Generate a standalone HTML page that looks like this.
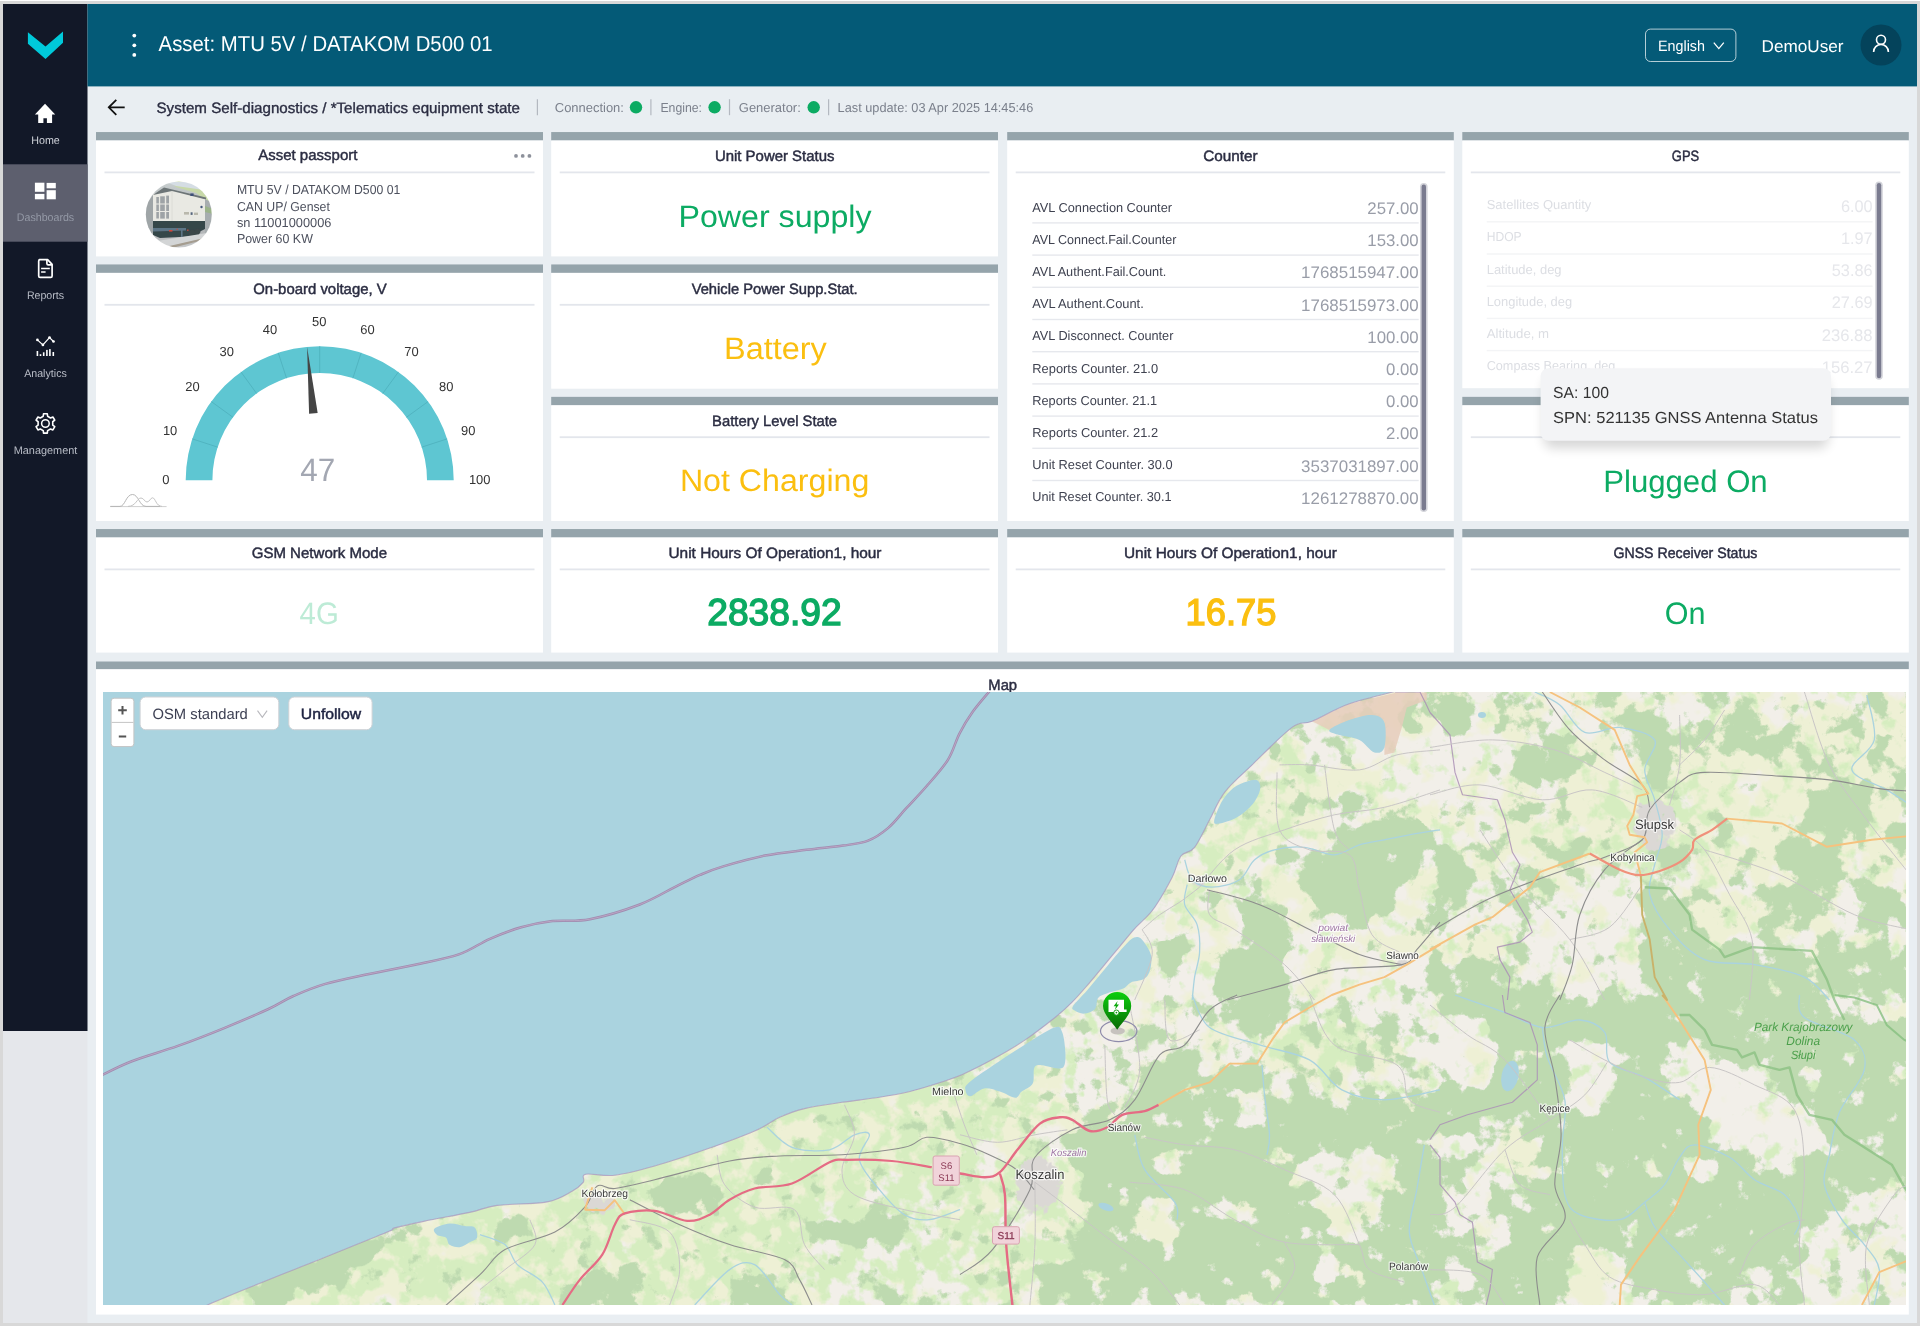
<!DOCTYPE html>
<html lang="en"><head><meta charset="utf-8"><title>Asset: MTU 5V / DATAKOM D500 01</title>
<style>
html,body{margin:0;padding:0;background:#fff;overflow:hidden}
body{width:1923px;height:1328px;position:relative}
body>svg{position:absolute;left:0;top:0;display:block;font-family:"Liberation Sans",sans-serif;will-change:transform}
text{white-space:pre;text-rendering:geometricPrecision}
</style></head><body>
<svg width="1923" height="1328" viewBox="0 0 1923 1328">

<rect x="0.00" y="1.00" width="1920.00" height="1325.00" fill="#d8d8d8" />
<rect x="3.00" y="4.00" width="1914.00" height="1319.00" fill="#e9eef2" />
<rect x="3.00" y="4.00" width="84.50" height="1027.00" fill="#121828" />
<rect x="3.00" y="1031.00" width="84.50" height="292.00" fill="#e5e7eb" />
<rect x="3.00" y="164.30" width="84.50" height="77.40" fill="#5d5f6e" />
<rect x="87.50" y="4.00" width="1829.50" height="82.40" fill="#045a77" />
<circle cx="134.3" cy="35.6" r="1.9" fill="#fff"/>
<circle cx="134.3" cy="45.3" r="1.9" fill="#fff"/>
<circle cx="134.3" cy="54.9" r="1.9" fill="#fff"/>
<text x="158.6" y="51.3" font-size="21.5" fill="#fff" textLength="334.0" lengthAdjust="spacingAndGlyphs">Asset: MTU 5V / DATAKOM D500 01</text>
<rect x="1645.5" y="29.1" width="90.4" height="32.4" rx="5" fill="none" stroke="#fff" stroke-opacity=".7" stroke-width="1"/>
<text x="1658.0" y="51.0" font-size="15" fill="#fff" textLength="47.0" lengthAdjust="spacingAndGlyphs">English</text>
<path d="M1713.8 42.6 L1718.8 48.6 L1723.8 42.6" fill="none" stroke="#fff" stroke-width="1.3"/>
<text x="1761.5" y="52.0" font-size="17" fill="#fff" textLength="82.0" lengthAdjust="spacingAndGlyphs">DemoUser</text>
<circle cx="1881" cy="45" r="20.5" fill="#04435b"/>
<circle cx="1881" cy="39.8" r="4.5" fill="none" stroke="#fff" stroke-width="1.6"/>
<path d="M1873.6 51.9 A7.4 7.4 0 0 1 1888.4 51.9" fill="none" stroke="#fff" stroke-width="1.6"/>
<path d="M27.9 32.2 L45.5 46.4 L63 31.6 L63 42.7 L45.5 59 L27.9 43.8 Z" fill="#00c9da"/>
<path d="M45.03 103.7 L55.2 114.6 L52.1 114.6 L52.1 123.1 L46.9 123.1 L46.9 118.2 L43.4 118.2 L43.4 123.1 L38.2 123.1 L38.2 114.6 L34.9 114.6 Z" fill="#fff"/>
<rect x="34.90" y="182.70" width="9.50" height="9.10" fill="#fff" />
<rect x="46.60" y="182.90" width="9.20" height="5.40" fill="#fff" />
<rect x="34.90" y="193.90" width="9.50" height="5.40" fill="#fff" />
<rect x="46.60" y="190.20" width="9.20" height="9.10" fill="#fff" />
<g fill="none" stroke="#fff" stroke-width="1.7" stroke-linejoin="round"><path d="M39.4 259.6 L47.6 259.6 L52.1 264.3 L52.1 276 Q52.1 277.4 50.7 277.4 L40.1 277.4 Q38.7 277.4 38.7 276 L38.7 261 Q38.7 259.6 40.1 259.6 Z"/><path d="M46.9 259.8 L46.9 263.4 Q46.9 264.8 48.3 264.8 L52 264.8"/><path d="M41.1 268.6 L49.8 268.6 M41.1 271.9 L45.6 271.9" stroke-width="1.5"/></g>
<g stroke="#fff" fill="none"><path d="M37.4 339.9 L42.9 344.9 L49.5 337.5 L53.5 341.5" stroke-width="1.2"/></g>
<circle cx="37.4" cy="339.9" r="1.35" fill="#fff"/>
<circle cx="42.9" cy="344.9" r="1.35" fill="#fff"/>
<circle cx="49.5" cy="337.5" r="1.35" fill="#fff"/>
<circle cx="53.5" cy="341.5" r="1.35" fill="#fff"/>
<rect x="36.60" y="351.00" width="1.60" height="5.00" fill="#fff" />
<rect x="39.70" y="354.20" width="1.60" height="1.80" fill="#fff" />
<rect x="42.90" y="352.30" width="1.60" height="3.70" fill="#fff" />
<rect x="46.10" y="349.90" width="1.60" height="6.10" fill="#fff" />
<rect x="49.10" y="349.10" width="1.60" height="6.90" fill="#fff" />
<rect x="52.50" y="352.00" width="1.60" height="4.00" fill="#fff" />
<path d="M43.23 416.28 L43.53 413.73 L47.31 413.73 L47.61 416.28 L50.53 417.96 L52.89 416.96 L54.78 420.23 L52.73 421.76 L52.73 425.14 L54.78 426.67 L52.89 429.94 L50.53 428.94 L47.61 430.62 L47.31 433.17 L43.53 433.17 L43.23 430.62 L40.31 428.94 L37.95 429.94 L36.06 426.67 L38.11 425.14 L38.11 421.76 L36.06 420.23 L37.95 416.96 L40.31 417.96 Z" fill="none" stroke="#fff" stroke-width="1.6" stroke-linejoin="round"/>
<circle cx="45.42" cy="423.45" r="3.8" fill="none" stroke="#fff" stroke-width="1.5"/>
<text x="45.5" text-anchor="middle" y="144.0" font-size="11" fill="#cfd2d9" textLength="28.6" lengthAdjust="spacingAndGlyphs">Home</text>
<text x="45.5" text-anchor="middle" y="221.0" font-size="11" fill="#9499a6" textLength="57.4" lengthAdjust="spacingAndGlyphs">Dashboards</text>
<text x="45.5" text-anchor="middle" y="299.0" font-size="11" fill="#b9bdc7" textLength="37.2" lengthAdjust="spacingAndGlyphs">Reports</text>
<text x="45.5" text-anchor="middle" y="376.5" font-size="11" fill="#b9bdc7" textLength="42.6" lengthAdjust="spacingAndGlyphs">Analytics</text>
<text x="45.5" text-anchor="middle" y="454.0" font-size="11" fill="#b9bdc7" textLength="63.6" lengthAdjust="spacingAndGlyphs">Management</text>
<path d="M124.7 107.3 L109 107.3 M116.3 99.8 L108.8 107.3 L116.3 114.8" fill="none" stroke="#111" stroke-width="1.8"/>
<text x="156.5" y="112.9" font-size="15" fill="#2b2d42" textLength="363.5" lengthAdjust="spacingAndGlyphs" stroke="#2b2d42" stroke-width="0.35">System Self-diagnostics / *Telematics equipment state</text>
<path d="M537.4 99.2 L537.4 115.2" stroke="#b3b8c0" stroke-width="1.2"/>
<path d="M650.9 99.2 L650.9 115.2" stroke="#b3b8c0" stroke-width="1.2"/>
<path d="M729.5 99.2 L729.5 115.2" stroke="#b3b8c0" stroke-width="1.2"/>
<path d="M828.6 99.2 L828.6 115.2" stroke="#b3b8c0" stroke-width="1.2"/>
<text x="554.8" y="112.1" font-size="13" fill="#7b808c" textLength="69.1" lengthAdjust="spacingAndGlyphs">Connection:</text>
<text x="660.4" y="112.1" font-size="13" fill="#7b808c" textLength="41.6" lengthAdjust="spacingAndGlyphs">Engine:</text>
<text x="738.8" y="112.1" font-size="13" fill="#7b808c" textLength="62.0" lengthAdjust="spacingAndGlyphs">Generator:</text>
<text x="837.6" y="112.1" font-size="13" fill="#7b808c" textLength="195.7" lengthAdjust="spacingAndGlyphs">Last update: 03 Apr 2025 14:45:46</text>
<circle cx="636" cy="107.3" r="6.2" fill="#0cab63"/>
<circle cx="714.6" cy="107.3" r="6.2" fill="#0cab63"/>
<circle cx="813.7" cy="107.3" r="6.2" fill="#0cab63"/>
<rect x="96.00" y="132.05" width="447.00" height="8.45" fill="#95a4ab" />
<rect x="96.00" y="140.50" width="447.00" height="115.90" fill="#fff" />
<rect x="104.50" y="171.50" width="430.00" height="1.80" fill="#e3e6ec" />
<text x="307.8" text-anchor="middle" y="160.1" font-size="15" fill="#2b2d42" textLength="99.3" lengthAdjust="spacingAndGlyphs" stroke="#2b2d42" stroke-width="0.45">Asset passport</text>
<rect x="96.00" y="264.45" width="447.00" height="8.45" fill="#95a4ab" />
<rect x="96.00" y="272.90" width="447.00" height="248.10" fill="#fff" />
<rect x="104.50" y="303.90" width="430.00" height="1.80" fill="#e3e6ec" />
<text x="320.0" text-anchor="middle" y="293.6" font-size="15" fill="#2b2d42" textLength="133.5" lengthAdjust="spacingAndGlyphs" stroke="#2b2d42" stroke-width="0.45">On-board voltage, V</text>
<rect x="551.20" y="132.05" width="446.80" height="8.45" fill="#95a4ab" />
<rect x="551.20" y="140.50" width="446.80" height="115.90" fill="#fff" />
<rect x="559.70" y="171.50" width="429.80" height="1.80" fill="#e3e6ec" />
<text x="774.7" text-anchor="middle" y="161.2" font-size="15" fill="#2b2d42" textLength="119.6" lengthAdjust="spacingAndGlyphs" stroke="#2b2d42" stroke-width="0.45">Unit Power Status</text>
<rect x="551.20" y="264.45" width="446.80" height="8.45" fill="#95a4ab" />
<rect x="551.20" y="272.90" width="446.80" height="115.80" fill="#fff" />
<rect x="559.70" y="303.90" width="429.80" height="1.80" fill="#e3e6ec" />
<text x="774.7" text-anchor="middle" y="293.6" font-size="15" fill="#2b2d42" textLength="166.0" lengthAdjust="spacingAndGlyphs" stroke="#2b2d42" stroke-width="0.45">Vehicle Power Supp.Stat.</text>
<rect x="551.20" y="396.85" width="446.80" height="8.45" fill="#95a4ab" />
<rect x="551.20" y="405.30" width="446.80" height="115.70" fill="#fff" />
<rect x="559.70" y="436.30" width="429.80" height="1.80" fill="#e3e6ec" />
<text x="774.6" text-anchor="middle" y="426.0" font-size="15" fill="#2b2d42" textLength="125.0" lengthAdjust="spacingAndGlyphs" stroke="#2b2d42" stroke-width="0.45">Battery Level State</text>
<rect x="1007.20" y="132.05" width="446.60" height="8.45" fill="#95a4ab" />
<rect x="1007.20" y="140.50" width="446.60" height="380.50" fill="#fff" />
<rect x="1015.70" y="171.50" width="429.60" height="1.80" fill="#e3e6ec" />
<text x="1230.5" text-anchor="middle" y="161.2" font-size="15" fill="#2b2d42" textLength="54.4" lengthAdjust="spacingAndGlyphs" stroke="#2b2d42" stroke-width="0.45">Counter</text>
<rect x="1462.30" y="132.05" width="446.50" height="8.45" fill="#95a4ab" />
<rect x="1462.30" y="140.50" width="446.50" height="247.70" fill="#fff" />
<rect x="1470.80" y="171.50" width="429.50" height="1.80" fill="#e3e6ec" />
<text x="1685.5" text-anchor="middle" y="161.2" font-size="15" fill="#2b2d42" textLength="27.3" lengthAdjust="spacingAndGlyphs" stroke="#2b2d42" stroke-width="0.45">GPS</text>
<rect x="1462.30" y="396.85" width="446.50" height="8.45" fill="#95a4ab" />
<rect x="1462.30" y="405.30" width="446.50" height="115.70" fill="#fff" />
<rect x="1470.80" y="436.30" width="429.50" height="1.80" fill="#e3e6ec" />
<text x="1685.5" text-anchor="middle" y="426.0" font-size="15" fill="#2b2d42" textLength="140.0" lengthAdjust="spacingAndGlyphs" stroke="#2b2d42" stroke-width="0.45">GNSS Antenna Status</text>
<rect x="96.00" y="529.05" width="447.00" height="8.45" fill="#95a4ab" />
<rect x="96.00" y="537.50" width="447.00" height="115.10" fill="#fff" />
<rect x="104.50" y="568.50" width="430.00" height="1.80" fill="#e3e6ec" />
<text x="319.4" text-anchor="middle" y="558.2" font-size="15" fill="#2b2d42" textLength="135.4" lengthAdjust="spacingAndGlyphs" stroke="#2b2d42" stroke-width="0.45">GSM Network Mode</text>
<rect x="551.20" y="529.05" width="446.80" height="8.45" fill="#95a4ab" />
<rect x="551.20" y="537.50" width="446.80" height="115.10" fill="#fff" />
<rect x="559.70" y="568.50" width="429.80" height="1.80" fill="#e3e6ec" />
<text x="775.0" text-anchor="middle" y="558.2" font-size="15" fill="#2b2d42" textLength="213.0" lengthAdjust="spacingAndGlyphs" stroke="#2b2d42" stroke-width="0.45">Unit Hours Of Operation1, hour</text>
<rect x="1007.20" y="529.05" width="446.60" height="8.45" fill="#95a4ab" />
<rect x="1007.20" y="537.50" width="446.60" height="115.10" fill="#fff" />
<rect x="1015.70" y="568.50" width="429.60" height="1.80" fill="#e3e6ec" />
<text x="1230.5" text-anchor="middle" y="558.2" font-size="15" fill="#2b2d42" textLength="213.0" lengthAdjust="spacingAndGlyphs" stroke="#2b2d42" stroke-width="0.45">Unit Hours Of Operation1, hour</text>
<rect x="1462.30" y="529.05" width="446.50" height="8.45" fill="#95a4ab" />
<rect x="1462.30" y="537.50" width="446.50" height="115.10" fill="#fff" />
<rect x="1470.80" y="568.50" width="429.50" height="1.80" fill="#e3e6ec" />
<text x="1685.4" text-anchor="middle" y="558.2" font-size="15" fill="#2b2d42" textLength="144.0" lengthAdjust="spacingAndGlyphs" stroke="#2b2d42" stroke-width="0.45">GNSS Receiver Status</text>
<rect x="96.00" y="661.50" width="1812.80" height="7.80" fill="#95a4ab" />
<rect x="96.00" y="669.30" width="1812.80" height="645.30" fill="#fff" />
<text x="1002.7" text-anchor="middle" y="690.3" font-size="15" fill="#2b2d42" textLength="28.8" lengthAdjust="spacingAndGlyphs" stroke="#2b2d42" stroke-width="0.45">Map</text>
<text x="678.5" y="226.5" font-size="31" fill="#0cab63" textLength="193.1" lengthAdjust="spacingAndGlyphs">Power supply</text>
<text x="724.0" y="358.9" font-size="31" fill="#fbbf10" textLength="102.8" lengthAdjust="spacingAndGlyphs">Battery</text>
<text x="679.9" y="491.3" font-size="31" fill="#fbbf10" textLength="189.4" lengthAdjust="spacingAndGlyphs">Not Charging</text>
<text x="1603.2" y="491.9" font-size="31" fill="#0cab63" textLength="164.5" lengthAdjust="spacingAndGlyphs">Plugged On</text>
<text x="299.6" y="623.8" font-size="31" fill="#bdebd6" textLength="39.2" lengthAdjust="spacingAndGlyphs">4G</text>
<text x="707.2" y="625.3" font-size="37.5" fill="#0cab63" textLength="134.6" lengthAdjust="spacingAndGlyphs" stroke="#0cab63" stroke-width="1.4">2838.92</text>
<text x="1185.6" y="625.3" font-size="37.5" fill="#fbbf10" textLength="90.8" lengthAdjust="spacingAndGlyphs" stroke="#fbbf10" stroke-width="1.4">16.75</text>
<text x="1664.8" y="624.0" font-size="31" fill="#0cab63" textLength="40.8" lengthAdjust="spacingAndGlyphs">On</text>
<g fill="#8d919b"><circle cx="516" cy="155.9" r="1.9"/><circle cx="522.7" cy="155.9" r="1.9"/><circle cx="529.4" cy="155.9" r="1.9"/></g>
<text x="236.9" y="194.1" font-size="13" fill="#4d515e" textLength="163.4" lengthAdjust="spacingAndGlyphs">MTU 5V / DATAKOM D500 01</text>
<text x="236.9" y="210.5" font-size="13" fill="#4d515e" textLength="93.0" lengthAdjust="spacingAndGlyphs">CAN UP/ Genset</text>
<text x="236.9" y="227.0" font-size="13" fill="#4d515e" textLength="94.5" lengthAdjust="spacingAndGlyphs">sn 11001000006</text>
<text x="236.9" y="243.4" font-size="13" fill="#4d515e" textLength="76.0" lengthAdjust="spacingAndGlyphs">Power 60 KW</text>
<defs><filter id="phblur" x="-5%" y="-5%" width="110%" height="110%"><feGaussianBlur stdDeviation="0.45"/></filter><clipPath id="ph"><circle cx="178.8" cy="214.5" r="33"/></clipPath>
<linearGradient id="phbg" x1="0" y1="0" x2="0" y2="1"><stop offset="0" stop-color="#c9cfd0"/><stop offset=".55" stop-color="#a9aeb0"/><stop offset=".8" stop-color="#b7babc"/><stop offset="1" stop-color="#c9cbcd"/></linearGradient></defs>
<g clip-path="url(#ph)"><g filter="url(#phblur)">
<rect x="145" y="181" width="68" height="68" fill="url(#phbg)"/>
<path d="M170 181 L213 181 L213 205 L196 193 L176 187 Z" fill="#c7d8a8"/>
<path d="M166 182 L200 182 L204 190 L176 186 Z" fill="#d5dde4"/>
<path d="M146 205 L153 195 L153 232 L146 240 Z" fill="#9fa5a7"/>
<path d="M153 194 L172 190 L205 199 L205 221 L153 221 Z" fill="#e9e9e3"/>
<path d="M172 190 L172 221" stroke="#dcdcd6" stroke-width="1"/>
<path d="M164 187.5 L206 197.5 L206 199.5 L172 191 L153 195 Z" fill="#6d7577"/>
<g fill="#9ea3a6"><rect x="156.3" y="197" width="2.6" height="21.5"/><rect x="160.2" y="196.3" width="4.6" height="22.3"/><rect x="166.2" y="195.6" width="2.8" height="23"/></g>
<path d="M155.5 204 L170 204 M155.5 211.5 L170 211.5" stroke="#e9e9e3" stroke-width="1"/>
<rect x="184" y="212" width="5" height="2.6" fill="#b9b8ac"/><rect x="194" y="212.6" width="4" height="2.4" fill="#b9b8ac"/><rect x="190.6" y="212.3" width="2" height="2.6" fill="#56657d"/>
<circle cx="201.5" cy="207" r="1.2" fill="#44597d"/><rect x="190.4" y="193.4" width="3.2" height="2.6" fill="#3d4f78"/>
<path d="M153 221 L205 221 L205 229 L199 232 L199 236 L160 238 L153 235 Z" fill="#36464a"/>
<path d="M153 228 L186 228 L186 230.5 L153 231.5 Z" fill="#5d7486"/>
<rect x="181" y="229" width="1.6" height="8" fill="#5d7486"/>
<circle cx="192" cy="233" r="3.2" fill="#3b4648"/><circle cx="197.6" cy="231.5" r="2.8" fill="#3b4648"/>
<rect x="169" y="230" width="3.4" height="1.6" fill="#d0463a"/><rect x="176.6" y="228.7" width="1.2" height="1.2" fill="#d0463a"/><rect x="187" y="229.6" width="1.6" height="1.2" fill="#d0463a"/>
<path d="M205 199 L213 203 L213 236 L205 240 Z" fill="#a7adaf"/>
<path d="M205 206 L213 209 L213 214 L205 212 Z" fill="#9bb38a"/>
<path d="M145 243 L213 232 L213 236 L160 249 L145 249 Z" fill="#d3d5d6"/>
<path d="M165 247 L213 236 L213 237.4 L172 248 Z" fill="#a59d90"/>
</g></g>
<path d="M185.7 480.3 A134.0 134.0 0 0 1 453.7 480.3 L427.0 480.3 A107.3 107.3 0 0 0 212.4 480.3 Z" fill="#5ec6d2"/>
<path d="M217.65 447.14 L192.26 438.89" stroke="#4fb2be" stroke-width="0.9"/>
<path d="M232.89 417.23 L211.29 401.54" stroke="#4fb2be" stroke-width="0.9"/>
<path d="M256.63 393.49 L240.94 371.89" stroke="#4fb2be" stroke-width="0.9"/>
<path d="M286.54 378.25 L278.29 352.86" stroke="#4fb2be" stroke-width="0.9"/>
<path d="M319.70 373.00 L319.70 346.30" stroke="#4fb2be" stroke-width="0.9"/>
<path d="M352.86 378.25 L361.11 352.86" stroke="#4fb2be" stroke-width="0.9"/>
<path d="M382.77 393.49 L398.46 371.89" stroke="#4fb2be" stroke-width="0.9"/>
<path d="M406.51 417.23 L428.11 401.54" stroke="#4fb2be" stroke-width="0.9"/>
<path d="M421.75 447.14 L447.14 438.89" stroke="#4fb2be" stroke-width="0.9"/>
<text x="165.8" text-anchor="middle" y="484.0" font-size="13" fill="#333">0</text>
<text x="170.1" text-anchor="middle" y="435.3" font-size="13" fill="#333" textLength="14.4" lengthAdjust="spacingAndGlyphs">10</text>
<text x="192.4" text-anchor="middle" y="391.0" font-size="13" fill="#333" textLength="14.4" lengthAdjust="spacingAndGlyphs">20</text>
<text x="226.8" text-anchor="middle" y="355.9" font-size="13" fill="#333" textLength="14.4" lengthAdjust="spacingAndGlyphs">30</text>
<text x="269.9" text-anchor="middle" y="333.6" font-size="13" fill="#333" textLength="14.4" lengthAdjust="spacingAndGlyphs">40</text>
<text x="319.2" text-anchor="middle" y="326.0" font-size="13" fill="#333" textLength="14.4" lengthAdjust="spacingAndGlyphs">50</text>
<text x="367.5" text-anchor="middle" y="333.6" font-size="13" fill="#333" textLength="14.4" lengthAdjust="spacingAndGlyphs">60</text>
<text x="411.5" text-anchor="middle" y="355.9" font-size="13" fill="#333" textLength="14.4" lengthAdjust="spacingAndGlyphs">70</text>
<text x="446.2" text-anchor="middle" y="391.0" font-size="13" fill="#333" textLength="14.4" lengthAdjust="spacingAndGlyphs">80</text>
<text x="468.2" text-anchor="middle" y="435.3" font-size="13" fill="#333" textLength="14.4" lengthAdjust="spacingAndGlyphs">90</text>
<text x="479.7" text-anchor="middle" y="484.0" font-size="13" fill="#333" textLength="21.6" lengthAdjust="spacingAndGlyphs">100</text>
<path d="M307.09 346.89 L317.66 412.99 L309.10 413.80 Z" fill="#454545"/>
<text x="317.8" text-anchor="middle" y="481.3" font-size="32.5" fill="#a3a7b2" textLength="35.0" lengthAdjust="spacingAndGlyphs">47</text>
<g fill="none" stroke-width="1"><path d="M110.3 506.6 L166.6 506.6" stroke="#d0d0d0"/><path d="M110.3 506.4 L120 506.4 C125 506.4 126 494.5 132.5 494.5 C138.5 494.5 139.5 506.4 146 506.4 L160 506.4" stroke="#b5b5b5"/><path d="M128 506.4 C136 506.4 137 498 141 498 C144 498 144.5 502 147 502 C149.5 502 150.5 497.8 152.5 497.8 C155.5 497.8 156 506.4 162 506.4" stroke="#c4c4c4"/></g>
<text x="1032.3" y="211.6" font-size="13" fill="#3f4250" textLength="139.7" lengthAdjust="spacingAndGlyphs">AVL Connection Counter</text>
<text x="1418.7" text-anchor="end" y="214.0" font-size="16.8" fill="#999da8" textLength="51.4" lengthAdjust="spacingAndGlyphs">257.00</text>
<rect x="1032.30" y="222.20" width="386.40" height="1.40" fill="#e6e8ed" />
<text x="1032.3" y="243.8" font-size="13" fill="#3f4250" textLength="144.0" lengthAdjust="spacingAndGlyphs">AVL Connect.Fail.Counter</text>
<text x="1418.7" text-anchor="end" y="246.2" font-size="16.8" fill="#999da8" textLength="51.4" lengthAdjust="spacingAndGlyphs">153.00</text>
<rect x="1032.30" y="254.40" width="386.40" height="1.40" fill="#e6e8ed" />
<text x="1032.3" y="276.0" font-size="13" fill="#3f4250" textLength="133.9" lengthAdjust="spacingAndGlyphs">AVL Authent.Fail.Count.</text>
<text x="1418.7" text-anchor="end" y="278.4" font-size="16.8" fill="#999da8" textLength="117.6" lengthAdjust="spacingAndGlyphs">1768515947.00</text>
<rect x="1032.30" y="286.60" width="386.40" height="1.40" fill="#e6e8ed" />
<text x="1032.3" y="308.2" font-size="13" fill="#3f4250" textLength="111.4" lengthAdjust="spacingAndGlyphs">AVL Authent.Count.</text>
<text x="1418.7" text-anchor="end" y="310.6" font-size="16.8" fill="#999da8" textLength="117.6" lengthAdjust="spacingAndGlyphs">1768515973.00</text>
<rect x="1032.30" y="318.80" width="386.40" height="1.40" fill="#e6e8ed" />
<text x="1032.3" y="340.4" font-size="13" fill="#3f4250" textLength="141.1" lengthAdjust="spacingAndGlyphs">AVL Disconnect. Counter</text>
<text x="1418.7" text-anchor="end" y="342.8" font-size="16.8" fill="#999da8" textLength="51.4" lengthAdjust="spacingAndGlyphs">100.00</text>
<rect x="1032.30" y="351.00" width="386.40" height="1.40" fill="#e6e8ed" />
<text x="1032.3" y="372.6" font-size="13" fill="#3f4250" textLength="125.8" lengthAdjust="spacingAndGlyphs">Reports Counter. 21.0</text>
<text x="1418.7" text-anchor="end" y="375.0" font-size="16.8" fill="#999da8" textLength="32.6" lengthAdjust="spacingAndGlyphs">0.00</text>
<rect x="1032.30" y="383.20" width="386.40" height="1.40" fill="#e6e8ed" />
<text x="1032.3" y="404.8" font-size="13" fill="#3f4250" textLength="124.8" lengthAdjust="spacingAndGlyphs">Reports Counter. 21.1</text>
<text x="1418.7" text-anchor="end" y="407.2" font-size="16.8" fill="#999da8" textLength="32.6" lengthAdjust="spacingAndGlyphs">0.00</text>
<rect x="1032.30" y="415.40" width="386.40" height="1.40" fill="#e6e8ed" />
<text x="1032.3" y="437.0" font-size="13" fill="#3f4250" textLength="125.8" lengthAdjust="spacingAndGlyphs">Reports Counter. 21.2</text>
<text x="1418.7" text-anchor="end" y="439.4" font-size="16.8" fill="#999da8" textLength="32.6" lengthAdjust="spacingAndGlyphs">2.00</text>
<rect x="1032.30" y="447.60" width="386.40" height="1.40" fill="#e6e8ed" />
<text x="1032.3" y="469.2" font-size="13" fill="#3f4250" textLength="140.2" lengthAdjust="spacingAndGlyphs">Unit Reset Counter. 30.0</text>
<text x="1418.7" text-anchor="end" y="471.6" font-size="16.8" fill="#999da8" textLength="117.6" lengthAdjust="spacingAndGlyphs">3537031897.00</text>
<rect x="1032.30" y="479.80" width="386.40" height="1.40" fill="#e6e8ed" />
<text x="1032.3" y="501.4" font-size="13" fill="#3f4250" textLength="139.2" lengthAdjust="spacingAndGlyphs">Unit Reset Counter. 30.1</text>
<text x="1418.7" text-anchor="end" y="503.8" font-size="16.8" fill="#999da8" textLength="117.6" lengthAdjust="spacingAndGlyphs">1261278870.00</text>
<rect x="1420" y="183" width="7.6" height="329" rx="3.8" fill="#d3d4da"/><rect x="1421.6" y="184.6" width="4.4" height="325.8" rx="2.2" fill="#7a7b8f"/>
<text x="1486.7" y="209.2" font-size="13" fill="#dcdee3" textLength="104.6" lengthAdjust="spacingAndGlyphs">Satellites Quantity</text>
<text x="1872.6" text-anchor="end" y="211.8" font-size="16.8" fill="#e6e7eb" textLength="31.7" lengthAdjust="spacingAndGlyphs">6.00</text>
<rect x="1486.70" y="221.10" width="385.90" height="1.40" fill="#f3f4f6" />
<text x="1486.7" y="241.4" font-size="13" fill="#dcdee3" textLength="35.0" lengthAdjust="spacingAndGlyphs">HDOP</text>
<text x="1872.6" text-anchor="end" y="244.0" font-size="16.8" fill="#e6e7eb" textLength="31.7" lengthAdjust="spacingAndGlyphs">1.97</text>
<rect x="1486.70" y="253.30" width="385.90" height="1.40" fill="#f3f4f6" />
<text x="1486.7" y="273.6" font-size="13" fill="#dcdee3" textLength="74.9" lengthAdjust="spacingAndGlyphs">Latitude, deg</text>
<text x="1872.6" text-anchor="end" y="276.2" font-size="16.8" fill="#e6e7eb" textLength="40.8" lengthAdjust="spacingAndGlyphs">53.86</text>
<rect x="1486.70" y="285.50" width="385.90" height="1.40" fill="#f3f4f6" />
<text x="1486.7" y="305.8" font-size="13" fill="#dcdee3" textLength="85.4" lengthAdjust="spacingAndGlyphs">Longitude, deg</text>
<text x="1872.6" text-anchor="end" y="308.4" font-size="16.8" fill="#e6e7eb" textLength="40.8" lengthAdjust="spacingAndGlyphs">27.69</text>
<rect x="1486.70" y="317.70" width="385.90" height="1.40" fill="#f3f4f6" />
<text x="1486.7" y="338.0" font-size="13" fill="#dcdee3" textLength="62.4" lengthAdjust="spacingAndGlyphs">Altitude, m</text>
<text x="1872.6" text-anchor="end" y="340.6" font-size="16.8" fill="#e6e7eb" textLength="50.9" lengthAdjust="spacingAndGlyphs">236.88</text>
<rect x="1486.70" y="349.90" width="385.90" height="1.40" fill="#f3f4f6" />
<text x="1486.7" y="370.2" font-size="13" fill="#dcdee3" textLength="128.6" lengthAdjust="spacingAndGlyphs">Compass Bearing, deg</text>
<text x="1872.6" text-anchor="end" y="372.8" font-size="16.8" fill="#e6e7eb" textLength="50.9" lengthAdjust="spacingAndGlyphs">156.27</text>
<rect x="1875.2" y="181.4" width="7.6" height="198.4" rx="3.8" fill="#d3d4da"/><rect x="1876.8" y="183" width="4.4" height="195.2" rx="2.2" fill="#7a7b8f"/>
<defs><filter id="tsh" x="-10%" y="-30%" width="120%" height="180%"><feGaussianBlur stdDeviation="6"/></filter></defs>
<rect x="1544" y="378" width="284" height="70" rx="8" fill="#000" opacity=".16" filter="url(#tsh)"/>
<rect x="1540.6" y="368.2" width="290.4" height="72.6" rx="8" fill="#f3f4f6"/>
<text x="1553.1" y="397.5" font-size="16" fill="#333" textLength="55.8" lengthAdjust="spacingAndGlyphs">SA: 100</text>
<text x="1553.1" y="422.8" font-size="16" fill="#333" textLength="264.9" lengthAdjust="spacingAndGlyphs">SPN: 521135 GNSS Antenna Status</text>
<svg x="103" y="692" width="1803" height="613" viewBox="103 692 1803 613" overflow="hidden">
<defs><clipPath id="landclip"><path d="M203.0 1308.0 C203.8 1307.5 199.7 1308.5 207.5 1305.0 C215.3 1301.5 234.5 1293.6 249.9 1287.3 C265.3 1281.0 283.2 1274.0 299.9 1267.3 C316.5 1260.6 334.8 1253.3 349.8 1247.3 C364.8 1241.3 382.2 1234.3 389.7 1231.1 C397.2 1227.9 388.9 1229.6 394.7 1227.9 C400.5 1226.2 412.2 1223.7 424.7 1221.1 C437.2 1218.5 457.5 1215.0 469.6 1212.4 C481.7 1209.8 484.2 1207.2 497.1 1205.4 C510.0 1203.7 534.5 1204.3 547.0 1201.9 C559.5 1199.5 566.0 1194.5 572.0 1191.2 C578.0 1188.0 580.9 1185.2 583.2 1182.4 C585.5 1179.6 580.4 1175.4 585.7 1174.2 C591.0 1173.0 603.3 1176.6 614.8 1175.2 C626.3 1173.8 639.7 1170.2 654.7 1166.0 C669.7 1161.8 688.1 1155.6 704.7 1149.8 C721.4 1144.0 742.1 1136.4 754.6 1131.0 C767.1 1125.6 771.3 1121.0 779.6 1117.3 C787.9 1113.6 794.1 1111.1 804.5 1108.6 C814.9 1106.1 829.5 1104.2 842.0 1102.3 C854.5 1100.4 868.1 1099.1 879.4 1097.3 C890.7 1095.5 901.4 1093.5 910.0 1091.5 C918.6 1089.5 922.5 1088.2 931.2 1085.4 C939.9 1082.6 952.0 1078.8 962.4 1074.4 C972.8 1070.0 983.2 1064.5 993.6 1058.8 C1004.0 1053.1 1014.4 1047.1 1024.8 1040.1 C1035.2 1033.1 1048.2 1022.9 1056.0 1016.7 C1063.8 1010.5 1066.4 1007.9 1071.6 1002.7 C1076.8 997.5 1082.0 991.5 1087.2 985.5 C1092.4 979.5 1097.6 973.0 1102.8 966.8 C1108.0 960.6 1113.2 954.3 1118.4 948.1 C1123.6 941.9 1129.8 934.1 1134.0 929.4 C1138.2 924.7 1140.0 923.7 1143.4 920.0 C1146.9 916.3 1149.9 914.3 1154.7 907.2 C1159.5 900.1 1167.8 885.7 1172.2 877.2 C1176.6 868.7 1177.2 861.0 1180.9 856.0 C1184.6 851.0 1189.8 853.3 1194.6 847.3 C1199.4 841.3 1204.6 829.0 1209.6 819.8 C1214.6 810.6 1217.5 801.4 1224.6 792.3 C1231.7 783.1 1240.9 775.7 1252.1 764.9 C1263.3 754.1 1282.0 734.7 1292.0 727.4 C1302.0 720.1 1302.4 725.2 1312.0 721.2 C1321.6 717.2 1335.3 708.7 1349.4 703.7 C1363.5 698.7 1388.9 693.1 1396.8 691.0 L1910 688 L1910 1308 Z"/></clipPath>
<filter id="fFor" x="103" y="692" width="1803" height="613" filterUnits="userSpaceOnUse" color-interpolation-filters="sRGB">
<feGaussianBlur in="SourceGraphic" stdDeviation="7"/>
<feColorMatrix type="matrix" values="0 0 0 0 0  0 0 0 0 0  0 0 0 0 0  1 0 0 0 0" result="dens"/>
<feTurbulence type="fractalNoise" baseFrequency="0.045" numOctaves="5" seed="11" result="noise"/>
<feComposite in="noise" in2="dens" operator="arithmetic" k1="0" k2="0.5" k3="0.5" k4="0"/>
<feComponentTransfer result="mask"><feFuncA type="linear" slope="22" intercept="-10.5"/></feComponentTransfer>
<feFlood flood-color="#bedab0"/><feComposite in2="mask" operator="in"/>
</filter>
<filter id="fFarm" x="103" y="692" width="1803" height="613" filterUnits="userSpaceOnUse" color-interpolation-filters="sRGB">
<feGaussianBlur in="SourceGraphic" stdDeviation="12"/>
<feColorMatrix type="matrix" values="0 0 0 0 0  0 0 0 0 0  0 0 0 0 0  1 0 0 0 0" result="dens"/>
<feTurbulence type="fractalNoise" baseFrequency="0.03" numOctaves="4" seed="29" result="noise"/>
<feComposite in="noise" in2="dens" operator="arithmetic" k1="0" k2="0.5" k3="0.5" k4="0"/>
<feComponentTransfer result="mask"><feFuncA type="linear" slope="16" intercept="-7.5"/></feComponentTransfer>
<feFlood flood-color="#eef0d5"/><feComposite in2="mask" operator="in"/>
</filter>
<filter id="fGrass" x="103" y="692" width="1803" height="613" filterUnits="userSpaceOnUse" color-interpolation-filters="sRGB">
<feGaussianBlur in="SourceGraphic" stdDeviation="14"/>
<feColorMatrix type="matrix" values="0 0 0 0 0  0 0 0 0 0  0 0 0 0 0  1 0 0 0 0" result="dens"/>
<feTurbulence type="fractalNoise" baseFrequency="0.05" numOctaves="4" seed="53" result="noise"/>
<feComposite in="noise" in2="dens" operator="arithmetic" k1="0" k2="0.5" k3="0.5" k4="0"/>
<feComponentTransfer result="mask"><feFuncA type="linear" slope="14" intercept="-6.5"/></feComponentTransfer>
<feFlood flood-color="#d6edc0"/><feComposite in2="mask" operator="in"/>
</filter>
<filter id="fUrb" x="103" y="692" width="1803" height="613" filterUnits="userSpaceOnUse" color-interpolation-filters="sRGB">
<feGaussianBlur in="SourceGraphic" stdDeviation="4"/>
<feColorMatrix type="matrix" values="0 0 0 0 0  0 0 0 0 0  0 0 0 0 0  1 0 0 0 0" result="dens"/>
<feTurbulence type="fractalNoise" baseFrequency="0.09" numOctaves="3" seed="5" result="noise"/>
<feComposite in="noise" in2="dens" operator="arithmetic" k1="0" k2="0.5" k3="0.5" k4="0"/>
<feComponentTransfer result="mask"><feFuncA type="linear" slope="14" intercept="-6.5"/></feComponentTransfer>
<feFlood flood-color="#dbd8d5"/><feComposite in2="mask" operator="in"/>
</filter></defs>
<rect x="103" y="692" width="1803" height="613" fill="#aad3df"/>
<path d="M203.0 1308.0 C203.8 1307.5 199.7 1308.5 207.5 1305.0 C215.3 1301.5 234.5 1293.6 249.9 1287.3 C265.3 1281.0 283.2 1274.0 299.9 1267.3 C316.5 1260.6 334.8 1253.3 349.8 1247.3 C364.8 1241.3 382.2 1234.3 389.7 1231.1 C397.2 1227.9 388.9 1229.6 394.7 1227.9 C400.5 1226.2 412.2 1223.7 424.7 1221.1 C437.2 1218.5 457.5 1215.0 469.6 1212.4 C481.7 1209.8 484.2 1207.2 497.1 1205.4 C510.0 1203.7 534.5 1204.3 547.0 1201.9 C559.5 1199.5 566.0 1194.5 572.0 1191.2 C578.0 1188.0 580.9 1185.2 583.2 1182.4 C585.5 1179.6 580.4 1175.4 585.7 1174.2 C591.0 1173.0 603.3 1176.6 614.8 1175.2 C626.3 1173.8 639.7 1170.2 654.7 1166.0 C669.7 1161.8 688.1 1155.6 704.7 1149.8 C721.4 1144.0 742.1 1136.4 754.6 1131.0 C767.1 1125.6 771.3 1121.0 779.6 1117.3 C787.9 1113.6 794.1 1111.1 804.5 1108.6 C814.9 1106.1 829.5 1104.2 842.0 1102.3 C854.5 1100.4 868.1 1099.1 879.4 1097.3 C890.7 1095.5 901.4 1093.5 910.0 1091.5 C918.6 1089.5 922.5 1088.2 931.2 1085.4 C939.9 1082.6 952.0 1078.8 962.4 1074.4 C972.8 1070.0 983.2 1064.5 993.6 1058.8 C1004.0 1053.1 1014.4 1047.1 1024.8 1040.1 C1035.2 1033.1 1048.2 1022.9 1056.0 1016.7 C1063.8 1010.5 1066.4 1007.9 1071.6 1002.7 C1076.8 997.5 1082.0 991.5 1087.2 985.5 C1092.4 979.5 1097.6 973.0 1102.8 966.8 C1108.0 960.6 1113.2 954.3 1118.4 948.1 C1123.6 941.9 1129.8 934.1 1134.0 929.4 C1138.2 924.7 1140.0 923.7 1143.4 920.0 C1146.9 916.3 1149.9 914.3 1154.7 907.2 C1159.5 900.1 1167.8 885.7 1172.2 877.2 C1176.6 868.7 1177.2 861.0 1180.9 856.0 C1184.6 851.0 1189.8 853.3 1194.6 847.3 C1199.4 841.3 1204.6 829.0 1209.6 819.8 C1214.6 810.6 1217.5 801.4 1224.6 792.3 C1231.7 783.1 1240.9 775.7 1252.1 764.9 C1263.3 754.1 1282.0 734.7 1292.0 727.4 C1302.0 720.1 1302.4 725.2 1312.0 721.2 C1321.6 717.2 1335.3 708.7 1349.4 703.7 C1363.5 698.7 1388.9 693.1 1396.8 691.0 L1910 688 L1910 1308 Z" fill="#f2efe9"/>
<g clip-path="url(#landclip)">
<g filter="url(#fFarm)">
<rect x="53" y="642" width="1903" height="713" fill="#6b6b6b"/>
<polygon points="1179.7,854.8 1440.0,690.0 1440.0,1000.0 1077.3,1000.0" fill="#757575"/>
<polygon points="1209.6,829.8 1234.6,794.8 1259.6,779.9 1309.5,764.9 1334.4,789.9 1284.5,819.8 1272.0,849.8 1222.1,869.7 1199.6,849.8" fill="#c9c9c9"/>
<polygon points="1247.1,889.7 1322.0,889.7 1334.4,914.7 1259.6,909.7" fill="#a9a9a9"/>
<polygon points="1430.0,690.0 1910.0,690.0 1910.0,1000.0 1430.0,1000.0" fill="#808080"/>
<polygon points="1569.8,772.4 1629.7,764.9 1654.7,802.3 1629.7,849.8 1589.8,829.8 1569.8,802.3" fill="#c9c9c9"/>
<polygon points="1679.6,715.0 1910.0,715.0 1910.0,864.7 1779.5,839.8 1679.6,814.8" fill="#bebebe"/>
<polygon points="1694.6,844.8 1779.5,829.8 1804.4,864.7 1754.5,939.6 1694.6,929.6 1679.6,889.7" fill="#a9a9a9"/>
<polygon points="1512.4,794.8 1579.8,789.9 1579.8,864.7 1529.9,879.7 1504.9,839.8" fill="#a9a9a9"/>
<polygon points="1430.0,734.9 1509.9,739.9 1512.4,794.8 1462.5,794.8 1430.0,772.4" fill="#565656"/>
<polygon points="1524.9,914.7 1634.7,879.7 1639.7,1000.0 1559.8,1000.0" fill="#606060"/>
<polygon points="1430.0,995.0 1910.0,995.0 1910.0,1305.0 1430.0,1305.0" fill="#565656"/>
<polygon points="1569.8,1249.6 1624.7,1254.6 1629.7,1305.0 1569.8,1305.0" fill="#c9c9c9"/>
<polygon points="1492.4,1134.8 1544.8,1144.8 1539.8,1184.7 1504.9,1194.7" fill="#a9a9a9"/>
<polygon points="960.0,1077.4 1077.3,995.0 1440.0,995.0 1440.0,1305.0 960.0,1305.0" fill="#6b6b6b"/>
<polygon points="1234.6,1027.5 1359.4,1020.0 1384.4,1082.4 1284.5,1077.4" fill="#b4b4b4"/>
<polygon points="960.0,1094.9 1067.3,1069.9 1109.8,1219.7 1067.3,1305.0 960.0,1305.0" fill="#949494"/>
<polygon points="1134.7,1194.7 1174.7,1199.7 1174.7,1239.6 1139.7,1234.6" fill="#c9c9c9"/>
<polygon points="105.6,1319.5 480.0,1209.7 584.8,1174.2 779.6,1117.3 960.0,1077.4 960.0,1305.0 105.6,1305.0" fill="#c2c2c2"/>
<polygon points="799.5,1209.7 960.0,1169.7 960.0,1305.0 817.0,1305.0" fill="#565656"/>
</g>
<g filter="url(#fGrass)">
<rect x="53" y="642" width="1903" height="713" fill="#565656"/>
<polygon points="103.0,1100.0 1010.0,1040.0 1100.0,1305.0 103.0,1305.0" fill="#8a8a8a"/>
<polygon points="1179.7,854.8 1284.5,739.9 1334.4,764.9 1259.6,864.7 1184.7,939.6 1134.7,939.6" fill="#808080"/>
<polygon points="1725.0,830.0 1718.1,856.0 1698.6,876.9 1670.6,888.5 1639.4,888.5 1611.4,876.9 1591.9,856.0 1585.0,830.0 1591.9,804.0 1611.4,783.1 1639.4,771.5 1670.6,771.5 1698.6,783.1 1718.1,804.0" fill="#8a8a8a"/>
<polygon points="1100.0,1190.0 1094.1,1220.4 1077.4,1244.7 1053.4,1258.2 1026.6,1258.2 1002.6,1244.7 985.9,1220.4 980.0,1190.0 985.9,1159.6 1002.6,1135.3 1026.6,1121.8 1053.4,1121.8 1077.4,1135.3 1094.1,1159.6" fill="#808080"/>
<polygon points="1234.6,1027.5 1359.4,1020.0 1384.4,1082.4 1284.5,1077.4" fill="#949494"/>
</g>
<g filter="url(#fFor)">
<rect x="53" y="642" width="1903" height="713" fill="#666666"/>
<polygon points="1179.7,854.8 1440.0,690.0 1440.0,1000.0 1077.3,1000.0" fill="#454545"/>
<polygon points="1302.0,867.2 1329.4,852.3 1349.4,829.8 1384.4,817.3 1421.8,822.3 1434.3,839.8 1421.8,864.7 1399.3,869.7 1394.3,889.7 1384.4,914.7 1359.4,927.1 1329.4,914.7 1309.5,904.7 1299.5,884.7" fill="#d3d3d3"/>
<polygon points="1234.6,904.7 1259.6,902.2 1284.5,909.7 1294.5,924.6 1284.5,939.6 1259.6,942.1 1249.6,929.6 1237.1,914.7" fill="#d3d3d3"/>
<polygon points="1229.6,942.1 1254.6,929.6 1272.0,939.6 1282.0,959.6 1292.0,984.6 1294.5,1000.0 1222.1,1000.0 1209.6,979.6 1219.6,964.6" fill="#d3d3d3"/>
<polygon points="1159.7,944.6 1177.2,939.6 1189.7,947.1 1187.2,964.6 1177.2,977.1 1164.7,972.1 1159.7,959.6" fill="#d3d3d3"/>
<polygon points="1287.0,802.3 1309.5,797.3 1331.9,802.3 1329.4,812.3 1309.5,809.8 1292.0,809.8" fill="#c9c9c9"/>
<polygon points="1334.4,794.8 1354.4,787.4 1374.4,789.9 1371.9,802.3 1359.4,809.8 1339.4,807.3" fill="#d3d3d3"/>
<polygon points="1244.6,882.2 1259.6,872.2 1269.5,879.7 1259.6,892.2 1247.1,892.2" fill="#c9c9c9"/>
<polygon points="1269.5,852.3 1292.0,847.3 1299.5,854.8 1289.5,862.2 1274.5,862.2" fill="#c9c9c9"/>
<polygon points="1399.3,705.0 1440.0,700.0 1440.0,739.9 1409.3,734.9" fill="#949494"/>
<polygon points="1409.3,914.7 1440.0,909.7 1440.0,939.6 1414.3,939.6" fill="#949494"/>
<polygon points="1430.0,690.0 1910.0,690.0 1910.0,1000.0 1430.0,1000.0" fill="#6b6b6b"/>
<polygon points="1569.8,772.4 1629.7,764.9 1654.7,802.3 1629.7,849.8 1589.8,829.8 1569.8,802.3" fill="#363636"/>
<polygon points="1679.6,759.9 1804.4,764.9 1804.4,819.8 1729.6,814.8 1679.6,794.8" fill="#414141"/>
<polygon points="1694.6,844.8 1779.5,829.8 1804.4,864.7 1754.5,939.6 1694.6,929.6 1679.6,889.7" fill="#5a5a5a"/>
<polygon points="1430.0,734.9 1509.9,739.9 1512.4,794.8 1462.5,794.8 1430.0,772.4" fill="#363636"/>
<polygon points="1524.9,914.7 1634.7,879.7 1639.7,1000.0 1559.8,1000.0" fill="#414141"/>
<polygon points="1512.4,757.4 1554.8,739.9 1569.8,752.4 1564.8,772.4 1534.8,789.9 1514.9,784.9" fill="#d3d3d3"/>
<polygon points="1430.0,700.0 1467.4,697.5 1474.9,720.0 1460.0,734.9 1437.5,729.9" fill="#c9c9c9"/>
<polygon points="1559.8,839.8 1589.8,829.8 1594.8,849.8 1569.8,859.7" fill="#c9c9c9"/>
<polygon points="1629.7,715.0 1669.6,722.5 1674.6,772.4 1654.7,789.9 1637.2,764.9" fill="#b4b4b4"/>
<polygon points="1684.6,727.4 1729.6,715.0 1767.0,727.4 1754.5,752.4 1704.6,754.9" fill="#9f9f9f"/>
<polygon points="1754.5,739.9 1804.4,734.9 1819.4,752.4 1779.5,764.9" fill="#9f9f9f"/>
<polygon points="1809.4,789.9 1854.4,782.4 1879.3,802.3 1866.8,829.8 1829.4,834.8 1809.4,814.8" fill="#c9c9c9"/>
<polygon points="1779.5,839.8 1819.4,834.8 1829.4,864.7 1814.4,884.7 1784.5,869.7" fill="#c9c9c9"/>
<polygon points="1754.5,874.7 1804.4,879.7 1829.4,902.2 1804.4,927.1 1767.0,914.7" fill="#b4b4b4"/>
<polygon points="1854.4,884.7 1904.3,889.7 1910.0,927.1 1866.8,927.1" fill="#b4b4b4"/>
<polygon points="1647.2,887.2 1687.1,889.7 1692.1,927.1 1719.6,949.6 1752.0,947.1 1811.9,950.9 1910.0,952.1 1910.0,1000.0 1634.7,1000.0 1642.2,939.6" fill="#b6b6b6"/>
<polygon points="1659.7,849.8 1689.6,844.8 1684.6,864.7 1659.7,872.2" fill="#bebebe"/>
<polygon points="1430.0,844.8 1460.0,849.8 1469.9,889.7 1445.0,914.7 1430.0,902.2" fill="#b4b4b4"/>
<polygon points="1529.9,879.7 1559.8,884.7 1554.8,914.7 1529.9,909.7" fill="#9f9f9f"/>
<polygon points="1430.0,964.6 1504.9,964.6 1529.9,1000.0 1430.0,1000.0" fill="#b4b4b4"/>
<polygon points="1592.3,939.6 1619.7,944.6 1614.7,964.6 1594.8,962.1" fill="#9f9f9f"/>
<polygon points="1430.0,995.0 1910.0,995.0 1910.0,1305.0 1430.0,1305.0" fill="#b6b6b6"/>
<polygon points="1435.0,1015.0 1479.9,1020.0 1499.9,1044.9 1494.9,1077.4 1467.4,1089.9 1445.0,1069.9" fill="#2c2c2c"/>
<polygon points="1564.8,1037.4 1604.7,1044.9 1609.7,1069.9 1599.7,1114.8 1579.8,1112.3 1569.8,1077.4" fill="#2c2c2c"/>
<polygon points="1662.2,1044.9 1699.6,1042.4 1712.1,1069.9 1694.6,1099.8 1669.6,1089.9" fill="#2c2c2c"/>
<polygon points="1704.6,1059.9 1754.5,1064.9 1779.5,1094.9 1819.4,1124.8 1824.4,1144.8 1779.5,1164.7 1742.0,1149.8 1709.6,1134.8 1702.1,1094.9" fill="#2c2c2c"/>
<polygon points="1689.6,1154.8 1712.1,1159.8 1714.6,1189.7 1694.6,1184.7" fill="#2c2c2c"/>
<polygon points="1440.0,1134.8 1504.9,1124.8 1547.3,1144.8 1539.8,1184.7 1504.9,1202.2 1519.9,1244.6 1479.9,1257.1 1445.0,1219.7 1435.0,1169.7" fill="#666666"/>
<polygon points="1866.8,1184.7 1910.0,1179.7 1910.0,1305.0 1804.4,1305.0 1792.0,1244.6 1829.4,1219.7" fill="#5c5c5c"/>
<polygon points="1569.8,1249.6 1624.7,1254.6 1629.7,1305.0 1569.8,1305.0" fill="#363636"/>
<polygon points="1724.6,1269.6 1779.5,1264.6 1784.5,1305.0 1729.6,1305.0" fill="#6f6f6f"/>
<polygon points="1430.0,1264.6 1474.9,1269.6 1479.9,1294.6 1430.0,1305.0" fill="#565656"/>
<polygon points="1819.4,995.0 1910.0,995.0 1910.0,1020.0 1854.4,1025.0" fill="#565656"/>
<polygon points="960.0,1077.4 1077.3,995.0 1440.0,995.0 1440.0,1305.0 960.0,1305.0" fill="#5c5c5c"/>
<polygon points="1134.7,995.0 1440.0,995.0 1440.0,1099.8 1134.7,1099.8" fill="#6f6f6f"/>
<polygon points="1067.3,1134.8 1134.7,1094.9 1159.7,1099.8 1209.6,1089.9 1284.5,1099.8 1440.0,1094.9 1440.0,1305.0 1034.9,1305.0 1084.8,1219.7" fill="#b6b6b6"/>
<polygon points="1159.7,1154.8 1184.7,1152.3 1187.2,1169.7 1164.7,1174.7" fill="#363636"/>
<polygon points="1234.6,1089.9 1259.6,1087.4 1267.0,1114.8 1239.6,1119.8" fill="#363636"/>
<polygon points="1272.0,1139.8 1292.0,1139.8 1294.5,1157.3 1274.5,1159.8" fill="#363636"/>
<polygon points="1214.6,1199.7 1249.6,1204.7 1252.1,1219.7 1217.1,1217.2" fill="#363636"/>
<polygon points="1334.4,1149.8 1399.3,1154.8 1384.4,1219.7 1359.4,1244.6 1334.4,1234.6 1294.5,1169.7" fill="#515151"/>
<polygon points="1134.7,1194.7 1174.7,1199.7 1174.7,1239.6 1139.7,1234.6" fill="#414141"/>
<polygon points="1317.0,1244.6 1349.4,1249.6 1349.4,1282.1 1319.5,1279.6" fill="#363636"/>
<polygon points="1149.7,1057.4 1194.6,1052.4 1189.7,1077.4 1164.7,1099.8 1139.7,1094.9" fill="#cfcfcf"/>
<polygon points="1222.1,1002.5 1279.5,1000.0 1274.5,1022.5 1234.6,1027.5" fill="#c9c9c9"/>
<polygon points="1224.6,1064.9 1259.6,1067.4 1264.5,1094.9 1229.6,1094.9" fill="#c9c9c9"/>
<polygon points="992.5,1124.8 1019.9,1119.8 1024.9,1149.8 994.9,1154.8" fill="#c9c9c9"/>
<polygon points="1067.3,1134.8 1134.7,1134.8 1139.7,1169.7 1084.8,1174.7" fill="#d3d3d3"/>
<polygon points="1054.9,1092.4 1089.8,1094.9 1094.8,1112.3 1064.8,1112.3" fill="#9f9f9f"/>
<polygon points="1059.9,1015.0 1084.8,1012.5 1087.3,1032.4 1064.8,1034.9" fill="#9f9f9f"/>
<polygon points="960.0,1094.9 1067.3,1069.9 1067.3,1305.0 960.0,1305.0" fill="#565656"/>
<polygon points="1034.9,1257.1 1134.7,1244.6 1134.7,1305.0 1034.9,1305.0" fill="#a9a9a9"/>
<polygon points="105.6,1319.5 480.0,1209.7 584.8,1174.2 779.6,1117.3 960.0,1077.4 960.0,1305.0 105.6,1305.0" fill="#4f4f4f"/>
<polygon points="654.7,1179.7 712.2,1177.2 714.6,1207.2 679.7,1214.7 654.7,1194.7" fill="#cfcfcf"/>
<polygon points="747.1,1169.7 769.6,1169.7 769.6,1179.7 747.1,1179.7" fill="#bebebe"/>
<polygon points="802.0,1224.7 854.4,1219.7 904.4,1214.7 904.4,1244.6 854.4,1244.6 804.5,1232.1" fill="#c9c9c9"/>
<polygon points="574.9,1269.6 639.8,1264.6 644.8,1305.0 569.9,1305.0" fill="#aeaeae"/>
<polygon points="500.0,1217.2 519.9,1214.7 519.9,1234.6 500.0,1234.6" fill="#b4b4b4"/>
<polygon points="729.6,1269.6 779.6,1274.6 792.0,1305.0 717.1,1305.0" fill="#999999"/>
<polygon points="874.4,1282.1 904.4,1279.6 904.4,1305.0 879.4,1305.0" fill="#999999"/>
<polygon points="249.9,1287.3 389.7,1232.4 392.2,1239.9 362.3,1259.8 339.8,1279.8 274.9,1299.8 249.9,1305.0" fill="#dedede"/>
</g>
<g filter="url(#fUrb)">
<rect x="53" y="642" width="1903" height="713" fill="#000"/>
<polygon points="1677.9,824.8 1675.7,836.5 1669.6,845.9 1660.8,851.1 1651.0,851.1 1642.2,845.9 1636.1,836.5 1633.9,824.8 1636.1,813.1 1642.2,803.7 1651.0,798.5 1660.8,798.5 1669.6,803.7 1675.7,813.1" fill="#c9c9c9"/>
<polygon points="1062.4,1184.7 1059.9,1197.7 1053.0,1208.2 1043.0,1213.9 1031.8,1213.9 1021.8,1208.2 1014.9,1197.7 1012.4,1184.7 1014.9,1171.7 1021.8,1161.2 1031.8,1155.5 1043.0,1155.5 1053.0,1161.2 1059.9,1171.7" fill="#c9c9c9"/>
<polygon points="616.8,1202.2 615.1,1207.4 610.4,1211.6 603.6,1213.9 596.0,1213.9 589.2,1211.6 584.5,1207.4 582.8,1202.2 584.5,1197.0 589.2,1192.8 596.0,1190.5 603.6,1190.5 610.4,1192.8 615.1,1197.0" fill="#bebebe"/>
<polygon points="1412.3,964.6 1411.5,968.5 1409.3,971.6 1406.1,973.4 1402.5,973.4 1399.3,971.6 1397.1,968.5 1396.3,964.6 1397.1,960.7 1399.3,957.6 1402.5,955.8 1406.1,955.8 1409.3,957.6 1411.5,960.7" fill="#bebebe"/>
<polygon points="1204.1,879.7 1203.4,884.0 1201.5,887.5 1198.7,889.4 1195.5,889.4 1192.7,887.5 1190.8,884.0 1190.1,879.7 1190.8,875.4 1192.7,871.9 1195.5,870.0 1198.7,870.0 1201.5,871.9 1203.4,875.4" fill="#bebebe"/>
<polygon points="1136.7,1124.8 1136.0,1127.0 1134.1,1128.7 1131.3,1129.7 1128.1,1129.7 1125.3,1128.7 1123.4,1127.0 1122.7,1124.8 1123.4,1122.6 1125.3,1120.9 1128.1,1119.9 1131.3,1119.9 1134.1,1120.9 1136.0,1122.6" fill="#b4b4b4"/>
<polygon points="1651.0,872.0 1650.2,874.6 1648.0,876.7 1644.8,877.8 1641.2,877.8 1638.0,876.7 1635.8,874.6 1635.0,872.0 1635.8,869.4 1638.0,867.3 1641.2,866.2 1644.8,866.2 1648.0,867.3 1650.2,869.4" fill="#a9a9a9"/>
<polygon points="957.0,1092.0 956.0,1093.7 953.2,1095.1 949.2,1095.9 944.8,1095.9 940.8,1095.1 938.0,1093.7 937.0,1092.0 938.0,1090.3 940.8,1088.9 944.8,1088.1 949.2,1088.1 953.2,1088.9 956.0,1090.3" fill="#a9a9a9"/>
<polygon points="1559.0,1105.0 1558.5,1108.0 1557.1,1110.5 1555.1,1111.8 1552.9,1111.8 1550.9,1110.5 1549.5,1108.0 1549.0,1105.0 1549.5,1102.0 1550.9,1099.5 1552.9,1098.2 1555.1,1098.2 1557.1,1099.5 1558.5,1102.0" fill="#a9a9a9"/>
</g>
</g>
<polygon points="1312.0,721.2 1349.4,703.7 1396.8,692.5 1426.8,692.5 1426.8,700.0 1406.8,707.5 1401.8,727.4 1394.3,752.4 1384.4,754.9 1384.4,722.5 1371.9,715.0 1349.4,720.0 1329.4,729.9" fill="#e6cdbb" opacity=".85"/>
<path d="M1214.1 821.1 C1214.5 817.3 1218.9 806.6 1222.1 801.1 C1225.3 795.6 1229.2 791.1 1233.3 787.9 C1237.5 784.6 1243.0 782.6 1247.1 781.4 C1251.1 780.1 1255.4 778.9 1257.6 780.4 C1259.7 781.8 1261.0 785.8 1260.0 789.9 C1259.1 793.9 1255.9 800.3 1252.1 804.8 C1248.2 809.4 1242.5 814.2 1237.1 817.3 C1231.7 820.4 1223.4 822.9 1219.6 823.5 C1215.8 824.2 1213.7 824.8 1214.1 821.1 Z" fill="#aad3df"/>
<path d="M1329.4 729.9 C1331.1 727.4 1342.3 722.5 1349.4 720.0 C1356.5 717.5 1366.1 714.5 1371.9 715.0 C1377.7 715.4 1382.3 717.0 1384.4 722.5 C1386.4 727.9 1386.0 742.4 1384.4 747.4 C1382.7 752.4 1378.5 753.7 1374.4 752.4 C1370.2 751.2 1365.2 742.8 1359.4 739.9 C1353.6 737.0 1344.4 736.6 1339.4 734.9 C1334.4 733.3 1327.8 732.4 1329.4 729.9 Z" fill="#aad3df"/>
<path d="M1073.2 1005.8 C1075.3 1002.4 1082.3 995.9 1087.2 990.2 C1092.1 984.5 1097.6 977.7 1102.8 971.5 C1108.0 965.3 1113.7 958.1 1118.4 952.8 C1123.1 947.5 1127.5 942.1 1130.9 939.5 C1134.3 936.9 1136.4 936.6 1138.7 937.2 C1141.0 937.9 1142.8 940.3 1144.9 943.4 C1147.0 946.5 1150.4 951.2 1151.2 955.9 C1152.0 960.6 1150.9 967.6 1149.6 971.5 C1148.3 975.4 1146.5 977.5 1143.4 979.3 C1140.3 981.1 1134.3 980.8 1130.9 982.4 C1127.5 984.0 1127.0 986.8 1123.1 988.6 C1119.2 990.4 1111.7 991.7 1107.5 993.3 C1103.3 994.9 1100.2 995.4 1098.1 998.0 C1096.0 1000.6 1097.3 1006.3 1095.0 1008.9 C1092.7 1011.5 1087.5 1013.3 1084.1 1013.6 C1080.7 1013.9 1076.5 1011.8 1074.7 1010.5 C1072.9 1009.2 1071.1 1009.2 1073.2 1005.8 Z" fill="#aad3df"/>
<path d="M968.6 1083.0 C973.3 1078.8 984.2 1071.5 993.6 1065.1 C1003.0 1058.7 1014.7 1051.0 1024.8 1044.8 C1034.9 1038.5 1048.2 1029.7 1054.4 1027.6 C1060.6 1025.5 1060.4 1028.1 1062.2 1032.3 C1064.0 1036.5 1065.1 1046.9 1065.4 1052.6 C1065.7 1058.3 1065.4 1064.0 1063.8 1066.6 C1062.2 1069.2 1059.9 1068.5 1056.0 1068.2 C1052.1 1068.0 1044.0 1065.1 1040.4 1065.1 C1036.8 1065.1 1035.5 1065.1 1034.2 1068.2 C1032.9 1071.3 1034.7 1079.9 1032.6 1083.8 C1030.5 1087.7 1024.6 1089.3 1021.7 1091.6 C1018.8 1093.9 1019.0 1097.8 1015.4 1097.8 C1011.8 1097.8 1005.0 1093.1 999.8 1091.6 C994.6 1090.0 989.1 1087.7 984.2 1088.5 C979.3 1089.3 973.3 1096.0 970.2 1096.3 C967.1 1096.5 965.8 1092.2 965.5 1090.0 C965.2 1087.8 963.9 1087.2 968.6 1083.0 Z" fill="#aad3df"/>
<path d="M434.6 1228.6 C436.7 1226.7 444.6 1224.0 449.6 1223.6 C454.6 1223.2 460.4 1225.5 464.6 1226.1 C468.8 1226.7 472.5 1225.5 474.6 1227.4 C476.7 1229.3 477.9 1234.9 477.1 1237.4 C476.3 1239.9 472.5 1240.7 469.6 1242.3 C466.7 1243.9 462.9 1246.9 459.6 1247.3 C456.3 1247.7 451.9 1246.4 449.6 1244.8 C447.3 1243.2 448.0 1239.1 445.9 1237.4 C443.8 1235.8 439.0 1236.4 437.1 1234.9 C435.2 1233.4 432.5 1230.5 434.6 1228.6 Z" fill="#aad3df"/>
<ellipse cx="1510" cy="1076" rx="8.5" ry="15.5" fill="#aad3df" transform="rotate(12 1510 1076)"/>
<ellipse cx="1106" cy="1207" rx="8" ry="3.5" fill="#aad3df" transform="rotate(20 1106 1207)"/>
<ellipse cx="1482" cy="715" rx="4" ry="3" fill="#aad3df"/>
<path d="M1184.7 859.7 C1185.9 863.1 1187.6 875.1 1192.2 879.7 C1196.7 884.3 1204.2 887.2 1212.1 887.2 C1220.0 887.2 1232.5 884.3 1239.6 879.7 C1246.7 875.1 1248.7 864.7 1254.6 859.7 C1260.4 854.8 1266.2 851.8 1274.5 849.8 C1282.8 847.7 1294.5 846.4 1304.5 847.3 C1314.5 848.1 1325.3 855.2 1334.4 854.8 C1343.6 854.3 1351.1 847.3 1359.4 844.8 C1367.7 842.3 1376.0 841.4 1384.4 839.8 C1392.7 838.1 1400.0 836.4 1409.3 834.8 C1418.6 833.1 1434.9 830.6 1440.0 829.8" fill="none" stroke="#aad3df" stroke-width="1.3"/>
<path d="M1187.2 884.7 C1186.7 888.0 1183.0 898.0 1184.7 904.7 C1186.3 911.3 1194.6 916.7 1197.1 924.6 C1199.6 932.6 1200.1 943.4 1199.6 952.1 C1199.2 960.8 1195.9 969.1 1194.6 977.1 C1193.4 985.1 1192.6 996.2 1192.2 1000.0" fill="none" stroke="#aad3df" stroke-width="1.3"/>
<path d="M1534.8 692.0 C1539.0 694.2 1551.5 698.2 1559.8 705.0 C1568.1 711.7 1574.8 728.7 1584.8 732.4 C1594.8 736.2 1608.1 726.2 1619.7 727.4 C1631.4 728.7 1650.5 732.9 1654.7 739.9 C1658.8 747.0 1644.7 759.9 1644.7 769.9 C1644.7 779.9 1651.8 789.0 1654.7 799.8 C1657.6 810.7 1662.2 824.0 1662.2 834.8 C1662.2 845.6 1656.7 854.8 1654.7 864.7 C1652.6 874.7 1647.2 883.9 1649.7 894.7 C1652.2 905.5 1660.5 918.8 1669.6 929.6 C1678.8 940.5 1690.4 953.8 1704.6 959.6 C1718.7 965.4 1737.9 961.7 1754.5 964.6 C1771.2 967.5 1792.0 971.2 1804.4 977.1 C1816.9 983.0 1825.2 996.2 1829.4 1000.0" fill="none" stroke="#aad3df" stroke-width="1.3"/>
<path d="M1866.8 695.0 C1868.1 702.5 1876.8 727.4 1874.3 739.9 C1871.8 752.4 1849.8 761.6 1851.9 769.9 C1853.9 778.2 1877.1 784.0 1886.8 789.9 C1896.5 795.7 1906.2 802.3 1910.0 804.8" fill="none" stroke="#aad3df" stroke-width="1.3"/>
<path d="M1455.0 995.0 C1463.3 997.9 1490.3 1007.1 1504.9 1012.5 C1519.4 1017.9 1529.9 1026.2 1542.3 1027.5 C1554.8 1028.7 1569.4 1019.1 1579.8 1020.0 C1590.2 1020.8 1599.7 1025.4 1604.7 1032.4 C1609.7 1039.5 1603.1 1054.9 1609.7 1062.4 C1616.4 1069.9 1633.0 1071.1 1644.7 1077.4 C1656.3 1083.6 1673.8 1096.1 1679.6 1099.8" fill="none" stroke="#aad3df" stroke-width="1.3"/>
<path d="M1542.3 1027.5 C1543.2 1032.4 1543.6 1045.3 1547.3 1057.4 C1551.1 1069.5 1562.3 1085.3 1564.8 1099.8 C1567.3 1114.4 1562.3 1129.0 1562.3 1144.8 C1562.3 1160.6 1561.9 1183.1 1564.8 1194.7 C1567.7 1206.3 1570.6 1210.5 1579.8 1214.7 C1588.9 1218.8 1608.9 1221.7 1619.7 1219.7 C1630.5 1217.6 1637.2 1208.0 1644.7 1202.2 C1652.2 1196.4 1658.8 1192.2 1664.6 1184.7 C1670.5 1177.2 1674.6 1163.9 1679.6 1157.3 C1684.6 1150.6 1686.3 1144.8 1694.6 1144.8 C1702.9 1144.8 1719.6 1151.4 1729.6 1157.3 C1739.5 1163.1 1745.4 1173.5 1754.5 1179.7 C1763.7 1186.0 1777.0 1188.0 1784.5 1194.7 C1792.0 1201.4 1797.8 1213.0 1799.4 1219.7 C1801.1 1226.3 1795.3 1232.1 1794.5 1234.6" fill="none" stroke="#aad3df" stroke-width="1.3"/>
<path d="M1644.7 1202.2 C1646.3 1206.3 1648.8 1218.4 1654.7 1227.2 C1660.5 1235.9 1671.3 1245.5 1679.6 1254.6 C1687.9 1263.8 1697.1 1273.7 1704.6 1282.1 C1712.1 1290.5 1721.2 1301.2 1724.6 1305.0" fill="none" stroke="#aad3df" stroke-width="1.3"/>
<path d="M1799.4 995.0 C1800.3 998.7 1795.3 1010.0 1804.4 1017.5 C1813.6 1025.0 1844.4 1031.2 1854.4 1039.9 C1864.3 1048.7 1866.8 1057.8 1864.3 1069.9 C1861.9 1082.0 1845.2 1098.2 1839.4 1112.3 C1833.6 1126.5 1831.9 1142.7 1829.4 1154.8 C1826.9 1166.8 1822.3 1173.9 1824.4 1184.7 C1826.5 1195.5 1835.2 1209.7 1841.9 1219.7 C1848.5 1229.6 1858.1 1236.3 1864.3 1244.6 C1870.6 1252.9 1877.7 1259.5 1879.3 1269.6 C1881.0 1279.7 1875.2 1299.1 1874.3 1305.0" fill="none" stroke="#aad3df" stroke-width="1.3"/>
<path d="M1192.2 995.0 C1195.1 1000.4 1198.4 1019.1 1209.6 1027.5 C1220.9 1035.8 1242.9 1039.5 1259.6 1044.9 C1276.2 1050.3 1295.7 1052.4 1309.5 1059.9 C1323.2 1067.4 1329.4 1083.2 1341.9 1089.9 C1354.4 1096.5 1368.0 1099.8 1384.4 1099.8 C1400.7 1099.8 1430.8 1091.5 1440.0 1089.9" fill="none" stroke="#aad3df" stroke-width="1.3"/>
<path d="M1262.0 1064.9 C1262.5 1069.9 1263.3 1083.2 1264.5 1094.9 C1265.8 1106.5 1269.1 1124.8 1269.5 1134.8 C1270.0 1144.8 1267.5 1151.4 1267.0 1154.8" fill="none" stroke="#aad3df" stroke-width="1.3"/>
<path d="M1134.7 1134.8 C1136.4 1140.6 1138.1 1158.5 1144.7 1169.7 C1151.4 1181.0 1169.3 1193.9 1174.7 1202.2 C1180.1 1210.5 1176.8 1216.8 1177.2 1219.7" fill="none" stroke="#aad3df" stroke-width="1.3"/>
<path d="M1424.3 1144.8 C1423.1 1152.3 1419.3 1175.1 1416.8 1189.7 C1414.3 1204.3 1408.5 1218.8 1409.3 1232.1 C1410.2 1245.5 1417.6 1257.4 1421.8 1269.6 C1426.0 1281.7 1432.2 1299.1 1434.3 1305.0" fill="none" stroke="#aad3df" stroke-width="1.3"/>
<path d="M480.0 1234.6 C484.2 1236.3 498.7 1239.6 505.0 1244.6 C511.2 1249.6 511.2 1258.4 517.4 1264.6 C523.7 1270.8 536.2 1275.3 542.4 1282.1 C548.6 1288.8 552.8 1301.2 554.9 1305.0" fill="none" stroke="#aad3df" stroke-width="1.3"/>
<path d="M767.1 1127.3 C771.2 1130.6 781.6 1143.5 792.0 1147.3 C802.4 1151.0 819.1 1151.8 829.5 1149.8 C839.9 1147.7 847.8 1137.3 854.4 1134.8 C861.1 1132.3 868.6 1130.6 869.4 1134.8 C870.2 1139.0 857.8 1150.6 859.4 1159.8 C861.1 1168.9 871.9 1180.6 879.4 1189.7 C886.9 1198.9 896.0 1209.7 904.4 1214.7 C912.7 1219.7 920.0 1220.5 929.3 1219.7 C938.6 1218.8 954.9 1211.3 960.0 1209.7" fill="none" stroke="#aad3df" stroke-width="1.3"/>
<path d="M694.7 1305.0 C700.5 1299.1 719.6 1276.3 729.6 1269.6 C739.6 1262.8 746.3 1260.4 754.6 1264.6 C762.9 1268.8 773.3 1287.8 779.6 1294.6 C785.8 1301.3 790.0 1303.3 792.0 1305.0" fill="none" stroke="#aad3df" stroke-width="1.3"/>
<path d="M101.0 1075.6 C106.0 1073.2 118.4 1066.5 131.2 1061.5 C144.0 1056.5 162.4 1051.5 178.0 1045.9 C193.6 1040.3 209.7 1034.0 224.8 1027.8 C239.9 1021.6 257.1 1014.3 268.5 1009.0 C279.9 1003.7 284.0 1000.1 293.4 996.0 C302.8 991.9 312.6 987.6 324.6 984.1 C336.6 980.6 350.1 977.9 365.2 974.7 C380.3 971.5 399.5 968.1 415.1 964.7 C430.7 961.3 446.3 958.7 458.8 954.4 C471.3 950.1 479.6 943.3 490.0 938.8 C500.4 934.3 510.8 930.2 521.2 927.3 C531.6 924.3 541.0 922.5 552.4 921.1 C563.8 919.8 575.3 922.0 589.9 919.2 C604.5 916.4 625.2 910.1 639.8 904.5 C654.3 898.9 667.2 890.7 677.2 885.8 C687.2 880.9 692.3 878.1 700.0 874.9 C707.7 871.7 712.5 869.6 723.3 866.4 C734.1 863.2 751.0 858.4 764.9 855.6 C778.8 852.8 793.5 851.5 806.5 849.8 C819.5 848.1 832.8 847.1 843.1 845.6 C853.4 844.1 860.6 843.5 868.1 840.6 C875.6 837.7 881.6 833.5 888.0 828.1 C894.4 822.7 899.9 815.1 906.3 808.2 C912.7 801.3 919.4 794.5 926.3 786.5 C933.2 778.5 942.3 768.8 947.9 759.9 C953.5 751.0 955.4 741.3 959.6 733.3 C963.8 725.2 967.7 718.9 972.9 711.6 C978.1 704.3 988.0 693.2 991.0 689.5" fill="none" stroke="#9f88ad" stroke-width="2.5" opacity=".95"/>
<path d="M101.0 1075.6 C106.0 1073.2 118.4 1066.5 131.2 1061.5 C144.0 1056.5 162.4 1051.5 178.0 1045.9 C193.6 1040.3 209.7 1034.0 224.8 1027.8 C239.9 1021.6 257.1 1014.3 268.5 1009.0 C279.9 1003.7 284.0 1000.1 293.4 996.0 C302.8 991.9 312.6 987.6 324.6 984.1 C336.6 980.6 350.1 977.9 365.2 974.7 C380.3 971.5 399.5 968.1 415.1 964.7 C430.7 961.3 446.3 958.7 458.8 954.4 C471.3 950.1 479.6 943.3 490.0 938.8 C500.4 934.3 510.8 930.2 521.2 927.3 C531.6 924.3 541.0 922.5 552.4 921.1 C563.8 919.8 575.3 922.0 589.9 919.2 C604.5 916.4 625.2 910.1 639.8 904.5 C654.3 898.9 667.2 890.7 677.2 885.8 C687.2 880.9 692.3 878.1 700.0 874.9 C707.7 871.7 712.5 869.6 723.3 866.4 C734.1 863.2 751.0 858.4 764.9 855.6 C778.8 852.8 793.5 851.5 806.5 849.8 C819.5 848.1 832.8 847.1 843.1 845.6 C853.4 844.1 860.6 843.5 868.1 840.6 C875.6 837.7 881.6 833.5 888.0 828.1 C894.4 822.7 899.9 815.1 906.3 808.2 C912.7 801.3 919.4 794.5 926.3 786.5 C933.2 778.5 942.3 768.8 947.9 759.9 C953.5 751.0 955.4 741.3 959.6 733.3 C963.8 725.2 967.7 718.9 972.9 711.6 C978.1 704.3 988.0 693.2 991.0 689.5" fill="none" stroke="#c3afcc" stroke-width="0.8" opacity=".9"/>
<path d="M203.0 1308.0 C203.8 1307.5 199.7 1308.5 207.5 1305.0 C215.3 1301.5 234.5 1293.6 249.9 1287.3 C265.3 1281.0 283.2 1274.0 299.9 1267.3 C316.5 1260.6 334.8 1253.3 349.8 1247.3 C364.8 1241.3 382.2 1234.3 389.7 1231.1 C397.2 1227.9 388.9 1229.6 394.7 1227.9 C400.5 1226.2 412.2 1223.7 424.7 1221.1 C437.2 1218.5 457.5 1215.0 469.6 1212.4 C481.7 1209.8 484.2 1207.2 497.1 1205.4 C510.0 1203.7 534.5 1204.3 547.0 1201.9 C559.5 1199.5 566.0 1194.5 572.0 1191.2 C578.0 1188.0 580.9 1185.2 583.2 1182.4 C585.5 1179.6 580.4 1175.4 585.7 1174.2 C591.0 1173.0 603.3 1176.6 614.8 1175.2 C626.3 1173.8 639.7 1170.2 654.7 1166.0 C669.7 1161.8 688.1 1155.6 704.7 1149.8 C721.4 1144.0 742.1 1136.4 754.6 1131.0 C767.1 1125.6 771.3 1121.0 779.6 1117.3 C787.9 1113.6 794.1 1111.1 804.5 1108.6 C814.9 1106.1 829.5 1104.2 842.0 1102.3 C854.5 1100.4 868.1 1099.1 879.4 1097.3 C890.7 1095.5 901.4 1093.5 910.0 1091.5 C918.6 1089.5 922.5 1088.2 931.2 1085.4 C939.9 1082.6 952.0 1078.8 962.4 1074.4 C972.8 1070.0 983.2 1064.5 993.6 1058.8 C1004.0 1053.1 1014.4 1047.1 1024.8 1040.1 C1035.2 1033.1 1048.2 1022.9 1056.0 1016.7 C1063.8 1010.5 1066.4 1007.9 1071.6 1002.7 C1076.8 997.5 1082.0 991.5 1087.2 985.5 C1092.4 979.5 1097.6 973.0 1102.8 966.8 C1108.0 960.6 1113.2 954.3 1118.4 948.1 C1123.6 941.9 1129.8 934.1 1134.0 929.4 C1138.2 924.7 1140.0 923.7 1143.4 920.0 C1146.9 916.3 1149.9 914.3 1154.7 907.2 C1159.5 900.1 1167.8 885.7 1172.2 877.2 C1176.6 868.7 1177.2 861.0 1180.9 856.0 C1184.6 851.0 1189.8 853.3 1194.6 847.3 C1199.4 841.3 1204.6 829.0 1209.6 819.8 C1214.6 810.6 1217.5 801.4 1224.6 792.3 C1231.7 783.1 1240.9 775.7 1252.1 764.9 C1263.3 754.1 1282.0 734.7 1292.0 727.4 C1302.0 720.1 1302.4 725.2 1312.0 721.2 C1321.6 717.2 1335.3 708.7 1349.4 703.7 C1363.5 698.7 1388.9 693.1 1396.8 691.0" fill="none" stroke="#a595bd" stroke-width="1.1" opacity=".75"/>
<path d="M1395.0 692.0 L1420.0 692.0 L1426.0 704.0 L1430.0 712.5" fill="none" stroke="#ab91b6" stroke-width="1.15" stroke-linejoin="round" opacity=".85"/>
<path d="M1430.0 712.5 L1450.0 734.9 L1455.0 772.4 L1462.5 794.8 L1497.4 799.8 L1504.9 819.8 L1512.4 852.3 L1519.9 864.7 L1509.9 889.7 L1527.4 919.7 L1532.3 932.1 L1519.9 942.1 L1497.4 947.1 L1499.9 959.6 L1509.9 977.1 L1507.4 1000.0" fill="none" stroke="#ab91b6" stroke-width="1.15" stroke-linejoin="round" opacity=".85"/>
<path d="M1502.4 995.0 L1504.9 1012.5 L1529.9 1022.5 L1537.3 1044.9 L1537.3 1079.9 L1512.4 1102.3 L1467.4 1114.8 L1440.0 1124.8 L1430.0 1139.8" fill="none" stroke="#ab91b6" stroke-width="1.15" stroke-linejoin="round" opacity=".85"/>
<path d="M1430.0 1144.8 L1440.0 1157.3 L1440.0 1184.7 L1455.0 1202.2 L1460.0 1214.7 L1472.4 1222.2 L1477.4 1262.1 L1492.4 1269.6 L1489.9 1289.6 L1486.2 1305.0" fill="none" stroke="#ab91b6" stroke-width="1.15" stroke-linejoin="round" opacity=".85"/>
<path d="M1644.7 887.2 L1669.6 888.5 L1689.6 914.7 L1692.1 929.6 L1719.6 949.6 L1724.6 957.1 L1752.0 947.1 L1811.9 950.9 L1826.9 979.6 L1834.4 1000.0 L1839.4 1010.0 L1844.4 1020.0" fill="none" stroke="#84bd7e" stroke-width="2.4" stroke-linejoin="round" opacity=".7"/>
<path d="M1679.6 1015.0 L1689.6 1015.0 L1704.6 1029.9 L1712.1 1044.9 L1737.0 1049.9 L1742.0 1057.4 L1754.5 1052.4 L1759.5 1064.9 L1779.5 1069.9 L1789.5 1067.4 L1796.9 1094.9 L1809.4 1114.8 L1831.9 1119.8 L1844.4 1134.8 L1891.8 1164.7 L1904.3 1187.2 L1910.0 1194.7" fill="none" stroke="#84bd7e" stroke-width="2.4" stroke-linejoin="round" opacity=".7"/>
<path d="M1834.4 995.0 L1854.4 997.5 L1876.8 1005.0 L1886.8 1025.0 L1904.3 1039.9 L1910.0 1042.4" fill="none" stroke="#86bf80" stroke-width="2" opacity=".8"/>
<path d="M1199.6 887.2 C1205.5 881.0 1220.4 859.3 1234.6 849.8 C1248.7 840.2 1267.9 835.6 1284.5 829.8 C1301.2 824.0 1317.8 818.6 1334.4 814.8 C1351.1 811.1 1366.8 811.5 1384.4 807.3 C1402.0 803.2 1430.8 792.8 1440.0 789.9" fill="none" stroke="#c9c6c6" stroke-width="1"/>
<path d="M1209.6 889.7 C1209.6 893.9 1205.5 908.0 1209.6 914.7 C1213.8 921.3 1222.1 921.3 1234.6 929.6 C1247.1 938.0 1271.2 952.9 1284.5 964.6 C1297.8 976.3 1309.5 994.1 1314.5 1000.0" fill="none" stroke="#c9c6c6" stroke-width="1"/>
<path d="M1279.5 764.9 C1284.5 764.9 1296.2 764.1 1309.5 764.9 C1322.8 765.7 1344.8 771.5 1359.4 769.9 C1374.0 768.2 1383.4 758.2 1396.8 754.9 C1410.3 751.6 1432.8 750.7 1440.0 749.9" fill="none" stroke="#c9c6c6" stroke-width="1"/>
<path d="M1277.0 772.4 C1277.4 781.9 1274.1 816.9 1279.5 829.8 C1284.9 842.7 1297.8 845.6 1309.5 849.8 C1321.1 853.9 1341.1 848.1 1349.4 854.8 C1357.7 861.4 1355.7 876.4 1359.4 889.7 C1363.1 903.0 1365.2 924.2 1371.9 934.6 C1378.5 945.0 1394.8 949.2 1399.3 952.1" fill="none" stroke="#c9c6c6" stroke-width="1"/>
<path d="M1324.5 764.9 C1326.1 775.7 1330.3 815.6 1334.4 829.8 C1338.6 843.9 1346.9 846.4 1349.4 849.8" fill="none" stroke="#c9c6c6" stroke-width="1"/>
<path d="M1142.2 929.6 C1145.1 927.1 1153.5 919.2 1159.7 914.7 C1165.9 910.1 1173.0 906.8 1179.7 902.2 C1186.3 897.6 1196.3 889.7 1199.6 887.2" fill="none" stroke="#c9c6c6" stroke-width="1"/>
<path d="M1142.2 929.6 C1143.9 933.8 1153.5 942.9 1152.2 954.6 C1151.0 966.3 1137.7 992.5 1134.7 1000.0" fill="none" stroke="#c9c6c6" stroke-width="1"/>
<path d="M1430.0 747.4 C1440.4 746.2 1471.6 739.5 1492.4 739.9 C1513.2 740.3 1536.1 744.5 1554.8 749.9 C1573.5 755.3 1590.2 765.7 1604.7 772.4 C1619.3 779.0 1635.9 786.9 1642.2 789.9" fill="none" stroke="#c9c6c6" stroke-width="1"/>
<path d="M1430.0 794.8 C1438.3 793.2 1461.2 784.0 1479.9 784.9 C1498.6 785.7 1523.6 799.0 1542.3 799.8 C1561.1 800.7 1575.6 788.6 1592.3 789.9 C1608.9 791.1 1633.9 804.4 1642.2 807.3" fill="none" stroke="#c9c6c6" stroke-width="1"/>
<path d="M1679.6 715.0 C1679.6 723.3 1681.3 749.9 1679.6 764.9 C1678.0 779.9 1671.3 798.2 1669.6 804.8" fill="none" stroke="#c9c6c6" stroke-width="1"/>
<path d="M1724.6 710.0 C1721.2 715.0 1712.1 730.8 1704.6 739.9 C1697.1 749.1 1683.8 760.7 1679.6 764.9" fill="none" stroke="#c9c6c6" stroke-width="1"/>
<path d="M1679.6 829.8 C1683.8 833.1 1696.3 838.9 1704.6 849.8 C1712.9 860.6 1721.6 879.7 1729.6 894.7 C1737.5 909.7 1748.7 922.1 1752.0 939.6 C1755.3 957.2 1749.9 990.0 1749.5 1000.0" fill="none" stroke="#c9c6c6" stroke-width="1"/>
<path d="M1704.6 849.8 C1717.1 853.9 1754.5 863.9 1779.5 874.7 C1804.4 885.5 1832.6 905.5 1854.4 914.7 C1876.1 923.8 1900.8 927.1 1910.0 929.6" fill="none" stroke="#c9c6c6" stroke-width="1"/>
<path d="M1804.4 692.0 C1808.6 704.1 1819.0 743.6 1829.4 764.9 C1839.8 786.2 1853.4 801.5 1866.8 819.8 C1880.3 838.1 1902.8 865.6 1910.0 874.7" fill="none" stroke="#c9c6c6" stroke-width="1"/>
<path d="M1479.9 829.8 C1486.2 838.9 1502.4 866.4 1517.4 884.7 C1532.3 903.0 1555.2 920.4 1569.8 939.6 C1584.4 958.8 1598.9 990.0 1604.7 1000.0" fill="none" stroke="#c9c6c6" stroke-width="1"/>
<path d="M1642.2 884.7 C1636.8 891.8 1621.8 918.0 1609.7 927.1 C1597.7 936.3 1576.4 937.5 1569.8 939.6" fill="none" stroke="#c9c6c6" stroke-width="1"/>
<path d="M1430.0 1005.0 C1436.2 1010.0 1455.0 1025.8 1467.4 1034.9 C1479.9 1044.1 1491.2 1045.8 1504.9 1059.9 C1518.6 1074.0 1542.3 1109.8 1549.8 1119.8" fill="none" stroke="#c9c6c6" stroke-width="1"/>
<path d="M1569.8 1039.9 C1575.6 1043.3 1592.3 1053.7 1604.7 1059.9 C1617.2 1066.1 1632.2 1073.6 1644.7 1077.4 C1657.2 1081.1 1668.8 1084.0 1679.6 1082.4 C1690.4 1080.7 1697.1 1067.0 1709.6 1067.4 C1722.1 1067.8 1740.4 1077.8 1754.5 1084.9 C1768.7 1091.9 1786.1 1095.7 1794.5 1109.8 C1802.8 1124.0 1803.6 1147.3 1804.4 1169.7 C1805.3 1192.2 1799.4 1222.1 1799.4 1244.6 C1799.4 1267.2 1803.6 1295.0 1804.4 1305.0" fill="none" stroke="#c9c6c6" stroke-width="1"/>
<path d="M1430.0 1214.7 C1434.2 1213.4 1442.5 1218.0 1455.0 1207.2 C1467.4 1196.4 1489.1 1164.3 1504.9 1149.8 C1520.7 1135.2 1536.5 1129.0 1549.8 1119.8 C1563.1 1110.7 1575.2 1104.4 1584.8 1094.9 C1594.3 1085.3 1603.5 1067.8 1607.2 1062.4" fill="none" stroke="#c9c6c6" stroke-width="1"/>
<path d="M1504.9 1149.8 C1507.4 1155.6 1512.4 1177.2 1519.9 1184.7 C1527.4 1192.2 1544.8 1193.0 1549.8 1194.7" fill="none" stroke="#c9c6c6" stroke-width="1"/>
<path d="M1430.0 1269.6 C1438.3 1270.4 1467.4 1268.7 1479.9 1274.6 C1492.4 1280.5 1500.7 1300.0 1504.9 1305.0" fill="none" stroke="#c9c6c6" stroke-width="1"/>
<path d="M1569.8 1219.7 C1572.3 1223.8 1578.1 1235.1 1584.8 1244.6 C1591.4 1254.2 1598.1 1269.6 1609.7 1277.1 C1621.4 1284.6 1638.9 1286.6 1654.7 1289.6 C1670.5 1292.5 1687.9 1295.4 1704.6 1294.6 C1721.2 1293.7 1742.0 1282.8 1754.5 1284.6 C1767.0 1286.3 1775.3 1301.6 1779.5 1305.0" fill="none" stroke="#c9c6c6" stroke-width="1"/>
<path d="M1739.5 1274.6 C1742.0 1269.6 1747.0 1252.9 1754.5 1244.6 C1762.0 1236.3 1776.1 1228.8 1784.5 1224.7 C1792.8 1220.5 1801.1 1220.5 1804.4 1219.7" fill="none" stroke="#c9c6c6" stroke-width="1"/>
<path d="M1869.3 1305.0 C1868.9 1295.0 1862.7 1263.0 1866.8 1244.6 C1871.0 1226.2 1887.1 1204.7 1894.3 1194.7 C1901.5 1184.7 1907.4 1186.4 1910.0 1184.7" fill="none" stroke="#c9c6c6" stroke-width="1"/>
<path d="M1104.8 1044.9 C1105.2 1054.1 1105.6 1088.2 1107.3 1099.8 C1108.9 1111.5 1113.5 1112.3 1114.8 1114.8" fill="none" stroke="#c9c6c6" stroke-width="1"/>
<path d="M1129.7 1005.0 C1131.4 1015.8 1140.6 1052.8 1139.7 1069.9 C1138.9 1086.9 1127.2 1101.1 1124.8 1107.3" fill="none" stroke="#c9c6c6" stroke-width="1"/>
<path d="M1164.7 1000.0 C1165.5 1006.6 1163.9 1034.9 1169.7 1039.9 C1175.5 1044.9 1194.6 1031.6 1199.6 1029.9" fill="none" stroke="#c9c6c6" stroke-width="1"/>
<path d="M1144.7 1137.3 C1151.4 1138.5 1169.7 1142.7 1184.7 1144.8 C1199.6 1146.9 1217.9 1145.6 1234.6 1149.8 C1251.2 1153.9 1267.9 1162.2 1284.5 1169.7 C1301.2 1177.2 1322.0 1182.2 1334.4 1194.7 C1346.9 1207.2 1353.6 1232.1 1359.4 1244.6 C1365.2 1257.1 1361.9 1263.3 1369.4 1269.6 C1376.9 1275.8 1398.5 1280.0 1404.3 1282.1" fill="none" stroke="#c9c6c6" stroke-width="1"/>
<path d="M1129.7 1182.2 C1138.9 1183.5 1167.2 1183.5 1184.7 1189.7 C1202.1 1195.9 1217.9 1210.9 1234.6 1219.7 C1251.2 1228.4 1263.7 1238.0 1284.5 1242.1 C1305.3 1246.3 1346.9 1244.2 1359.4 1244.6" fill="none" stroke="#c9c6c6" stroke-width="1"/>
<path d="M1284.5 1242.1 C1286.2 1246.7 1296.6 1259.1 1294.5 1269.6 C1292.4 1280.1 1275.8 1299.1 1272.0 1305.0" fill="none" stroke="#c9c6c6" stroke-width="1"/>
<path d="M1309.5 995.0 C1313.6 1003.3 1319.9 1033.3 1334.4 1044.9 C1349.0 1056.6 1384.4 1055.7 1396.8 1064.9 C1409.3 1074.0 1402.1 1091.9 1409.3 1099.8 C1416.5 1107.7 1434.9 1110.2 1440.0 1112.3" fill="none" stroke="#c9c6c6" stroke-width="1"/>
<path d="M1034.9 1182.2 C1039.9 1186.0 1052.4 1195.1 1064.8 1204.7 C1077.3 1214.3 1095.6 1228.8 1109.8 1239.6 C1123.9 1250.5 1138.1 1258.7 1149.7 1269.6 C1161.4 1280.5 1174.7 1299.1 1179.7 1305.0" fill="none" stroke="#c9c6c6" stroke-width="1"/>
<path d="M960.0 1134.8 C966.2 1136.0 985.0 1142.3 997.4 1142.3 C1009.9 1142.3 1023.2 1136.9 1034.9 1134.8 C1046.5 1132.7 1061.9 1130.6 1067.3 1129.8" fill="none" stroke="#c9c6c6" stroke-width="1"/>
<path d="M1034.9 1182.2 C1034.9 1192.6 1035.7 1224.2 1034.9 1244.6 C1034.1 1265.1 1030.7 1295.0 1029.9 1305.0" fill="none" stroke="#c9c6c6" stroke-width="1"/>
<path d="M717.1 1154.8 C718.4 1159.8 718.4 1176.0 724.6 1184.7 C730.9 1193.5 742.9 1203.0 754.6 1207.2 C766.2 1211.3 786.2 1203.4 794.5 1209.7 C802.8 1215.9 799.5 1234.6 804.5 1244.6 C809.5 1254.6 821.2 1265.4 824.5 1269.6" fill="none" stroke="#c9c6c6" stroke-width="1"/>
<path d="M844.5 1104.8 C846.1 1109.8 854.9 1124.0 854.4 1134.8 C854.0 1145.6 842.0 1159.8 842.0 1169.7 C842.0 1179.7 844.0 1188.0 854.4 1194.7 C864.8 1201.4 886.8 1205.5 904.4 1209.7 C922.0 1213.8 950.8 1218.0 960.0 1219.7" fill="none" stroke="#c9c6c6" stroke-width="1"/>
<path d="M629.8 1219.7 C636.4 1221.7 661.4 1223.8 669.7 1232.1 C678.0 1240.5 679.7 1257.4 679.7 1269.6 C679.7 1281.7 671.4 1299.1 669.7 1305.0" fill="none" stroke="#c9c6c6" stroke-width="1"/>
<path d="M954.3 1094.9 C956.0 1099.8 960.5 1114.8 964.3 1124.8 C968.0 1134.8 974.7 1149.8 976.8 1154.8" fill="none" stroke="#c9c6c6" stroke-width="1"/>
<path d="M529.9 1219.7 C530.8 1223.8 539.1 1236.3 534.9 1244.6 C530.8 1252.9 514.1 1262.1 505.0 1269.6 C495.8 1277.1 484.2 1286.2 480.0 1289.6" fill="none" stroke="#c9c6c6" stroke-width="1"/>
<path d="M1430.0 932.1 C1440.4 926.3 1467.4 908.4 1492.4 897.2 C1517.4 886.0 1561.1 871.4 1579.8 864.7 C1598.5 858.1 1594.3 861.4 1604.7 857.2 C1615.1 853.1 1634.7 847.7 1642.2 839.8 C1649.7 831.9 1643.4 819.4 1649.7 809.8 C1655.9 800.3 1670.5 788.6 1679.6 782.4 C1688.8 776.1 1687.9 773.4 1704.6 772.4 C1721.2 771.3 1758.7 774.9 1779.5 776.1 C1800.3 777.4 1812.8 777.8 1829.4 779.9 C1846.0 781.9 1865.9 786.7 1879.3 788.6 C1892.8 790.5 1904.9 790.7 1910.0 791.1" fill="none" stroke="#8d8d8d" stroke-width="1.1"/>
<path d="M1542.3 692.0 C1546.9 698.3 1559.4 718.6 1569.8 729.9 C1580.2 741.3 1592.7 750.7 1604.7 759.9 C1616.8 769.0 1634.7 777.0 1642.2 784.9 C1649.7 792.8 1648.4 803.6 1649.7 807.3" fill="none" stroke="#8d8d8d" stroke-width="1.1"/>
<path d="M1642.2 839.8 C1635.9 844.8 1615.1 857.2 1604.7 869.7 C1594.3 882.2 1585.2 898.9 1579.8 914.7 C1574.4 930.5 1575.6 950.4 1572.3 964.6 C1569.0 978.8 1561.9 994.1 1559.8 1000.0" fill="none" stroke="#8d8d8d" stroke-width="1.1"/>
<path d="M1559.8 995.0 C1557.3 1000.4 1545.7 1013.7 1544.8 1027.5 C1544.0 1041.2 1552.1 1059.5 1554.8 1077.4 C1557.5 1095.3 1561.1 1116.9 1561.1 1134.8 C1561.1 1152.7 1554.2 1170.6 1554.8 1184.7 C1555.4 1198.9 1567.7 1207.6 1564.8 1219.7 C1561.9 1231.7 1541.5 1242.9 1537.3 1257.1 C1533.2 1271.3 1539.4 1297.0 1539.8 1305.0" fill="none" stroke="#8d8d8d" stroke-width="1.1"/>
<path d="M1237.1 995.0 C1232.5 997.5 1218.4 1001.7 1209.6 1010.0 C1200.9 1018.3 1193.0 1037.4 1184.7 1044.9 C1176.3 1052.4 1168.0 1045.8 1159.7 1054.9 C1151.4 1064.1 1143.1 1089.0 1134.7 1099.8 C1126.4 1110.7 1120.2 1114.8 1109.8 1119.8 C1099.4 1124.8 1084.8 1123.6 1072.3 1129.8 C1059.9 1136.0 1042.0 1147.3 1034.9 1157.3 C1027.8 1167.2 1037.0 1174.3 1029.9 1189.7 C1022.8 1205.1 1004.1 1235.5 992.5 1249.6 C980.8 1263.8 965.4 1270.4 960.0 1274.6" fill="none" stroke="#8d8d8d" stroke-width="1.1"/>
<path d="M430.1 1319.5 C438.4 1312.0 467.5 1286.2 480.0 1274.6 C492.5 1262.9 492.5 1256.7 505.0 1249.6 C517.4 1242.5 541.6 1239.2 554.9 1232.1 C568.2 1225.1 577.8 1214.9 584.8 1207.2 C591.9 1199.5 592.3 1189.1 597.3 1186.0 C602.3 1182.8 605.2 1189.5 614.8 1188.5 C624.4 1187.4 635.6 1184.3 654.7 1179.7 C673.9 1175.1 708.8 1165.0 729.6 1161.0 C750.4 1157.0 760.8 1157.0 779.6 1156.0 C798.3 1155.0 821.2 1156.2 842.0 1154.8 C862.8 1153.3 890.2 1150.2 904.4 1147.3 C918.5 1144.4 917.6 1137.9 926.8 1137.3 C936.1 1136.7 949.6 1140.6 960.0 1143.5 C970.4 1146.4 979.8 1150.4 989.2 1154.8 C998.7 1159.1 1009.2 1163.9 1016.7 1169.7 C1024.2 1175.6 1031.3 1186.4 1034.2 1189.7" fill="none" stroke="#8d8d8d" stroke-width="1.1"/>
<path d="M629.8 1199.7 C638.1 1203.9 663.1 1217.2 679.7 1224.7 C696.3 1232.1 712.2 1238.8 729.6 1244.6 C747.1 1250.5 772.9 1253.8 784.5 1259.6 C796.2 1265.4 794.9 1272.0 799.5 1279.6 C804.1 1287.1 809.9 1300.8 812.0 1305.0" fill="none" stroke="#8d8d8d" stroke-width="1.1"/>
<path d="M1207.1 889.7 C1215.9 892.2 1242.5 898.0 1259.6 904.7 C1276.6 911.3 1292.8 921.3 1309.5 929.6 C1326.1 938.0 1344.0 948.8 1359.4 954.6 C1374.8 960.4 1394.8 962.9 1401.8 964.6" fill="none" stroke="#8d8d8d" stroke-width="1.1"/>
<path d="M1440.0 922.2 C1436.2 926.7 1423.2 942.5 1416.8 949.6 C1410.4 956.7 1415.6 961.3 1401.8 964.6 C1388.1 967.9 1354.0 966.3 1334.4 969.6 C1314.9 972.9 1302.4 979.5 1284.5 984.6 C1266.6 989.6 1236.7 997.5 1227.1 1000.0" fill="none" stroke="#8d8d8d" stroke-width="1.1"/>
<path d="M1430.0 949.6 L1474.9 924.6 L1492.4 917.2 L1529.9 887.2 L1539.8 872.2 L1589.8 853.5" fill="none" stroke="#f6c27e" stroke-width="1.9" stroke-linejoin="round"/>
<path d="M1727.1 818.6 L1782.0 823.5 L1826.9 846.8 L1871.8 839.8 L1910.0 836.0" fill="none" stroke="#f6c27e" stroke-width="1.9" stroke-linejoin="round"/>
<path d="M1549.8 692.0 L1579.8 707.5 L1614.7 729.9 L1629.7 764.9 L1642.2 784.9 L1648.4 793.6 L1637.2 796.1 L1633.4 814.8 L1627.2 826.0 L1629.7 834.8 L1644.7 837.3 L1647.2 842.3 L1634.7 852.3 L1640.9 876.0" fill="none" stroke="#f6c27e" stroke-width="1.9" stroke-linejoin="round"/>
<path d="M1662.2 995.0 L1679.6 1020.0 L1704.6 1059.9 L1710.8 1089.9 L1698.3 1124.8 L1699.6 1154.8 L1687.1 1182.2 L1674.6 1209.7 L1639.7 1257.1 L1621.0 1284.6 L1619.7 1305.0" fill="none" stroke="#f6c27e" stroke-width="1.9" stroke-linejoin="round"/>
<path d="M1910.0 1259.6 L1879.3 1272.1 L1861.9 1305.0" fill="none" stroke="#f6c27e" stroke-width="1.9" stroke-linejoin="round"/>
<path d="M1158.5 1104.8 L1184.7 1089.9 L1209.6 1082.4 L1229.6 1063.6 L1257.1 1063.6 L1272.0 1039.9 L1284.5 1022.5 L1309.5 1007.5 L1331.9 995.0 L1359.4 984.6 L1384.4 977.1 L1406.8 964.6 L1440.0 944.6 L1430.0 949.6" fill="none" stroke="#f6c27e" stroke-width="1.9" stroke-linejoin="round"/>
<path d="M584.8 1209.7 L589.8 1194.7 L592.3 1187.2" fill="none" stroke="#f6c27e" stroke-width="1.9" stroke-linejoin="round"/>
<path d="M584.8 1209.7 L604.8 1210.2 L614.8 1200.2 L624.8 1214.2" fill="none" stroke="#f6c27e" stroke-width="1.9" stroke-linejoin="round"/>
<path d="M1640.9 876.0 L1642.2 914.7 L1649.7 939.6 L1654.7 977.1 L1667.1 1000.0 L1662.2 995.0" fill="none" stroke="#c9b26a" stroke-width="1.9" stroke-linejoin="round"/>
<path d="M1589.8 853.5 C1594.8 856.2 1611.4 866.1 1619.7 869.7 C1628.0 873.3 1633.0 875.0 1639.7 875.2 C1646.3 875.4 1653.0 873.1 1659.7 871.0 C1666.3 868.8 1674.2 865.8 1679.6 862.2 C1685.0 858.7 1689.6 853.5 1692.1 849.8 C1694.6 846.0 1691.3 843.1 1694.6 839.8 C1697.9 836.4 1706.7 833.3 1712.1 829.8 C1717.5 826.3 1724.6 820.4 1727.1 818.6" fill="none" stroke="#f0907a" stroke-width="2.2"/>
<path d="M562.4 1305.0 C565.3 1300.8 573.2 1288.0 579.9 1279.6 C586.5 1271.2 596.5 1263.8 602.3 1254.6 C608.1 1245.5 611.1 1231.5 614.8 1224.7 C618.5 1217.8 618.1 1215.7 624.8 1213.4 C631.4 1211.1 644.3 1209.7 654.7 1210.9 C665.1 1212.2 678.0 1220.3 687.2 1220.9 C696.3 1221.5 702.6 1218.2 709.7 1214.7 C716.7 1211.1 722.1 1204.1 729.6 1199.7 C737.1 1195.3 744.2 1191.2 754.6 1188.5 C765.0 1185.8 779.6 1187.8 792.0 1183.5 C804.5 1179.1 820.3 1166.2 829.5 1162.2 C838.6 1158.3 836.5 1160.0 846.9 1159.8 C857.4 1159.5 877.7 1159.8 891.9 1161.0 C906.0 1162.2 925.2 1166.2 931.8 1167.2" fill="none" stroke="#e56b84" stroke-width="2.2"/>
<path d="M935.0 1169.7 C939.2 1170.4 951.7 1172.2 960.0 1173.5 C968.3 1174.7 978.3 1177.4 985.0 1177.2 C991.6 1177.0 994.5 1176.8 999.9 1172.2 C1005.3 1167.7 1010.8 1157.9 1017.4 1149.8 C1024.1 1141.7 1032.8 1129.0 1039.9 1123.6 C1047.0 1118.1 1054.4 1117.9 1059.9 1117.3 C1065.3 1116.7 1067.3 1117.5 1072.3 1119.8 C1077.3 1122.1 1084.0 1129.8 1089.8 1131.0 C1095.6 1132.3 1101.9 1130.0 1107.3 1127.3 C1112.7 1124.6 1116.0 1117.5 1122.3 1114.8 C1128.5 1112.1 1138.7 1112.7 1144.7 1111.1 C1150.8 1109.4 1156.2 1105.9 1158.5 1104.8" fill="none" stroke="#e56b84" stroke-width="2.4"/>
<path d="M999.9 1173.5 C1000.8 1177.0 1003.9 1182.8 1004.9 1194.7 C1006.0 1206.6 1004.9 1226.2 1006.2 1244.6 C1007.4 1263.0 1011.4 1295.0 1012.4 1305.0" fill="none" stroke="#e56b84" stroke-width="2.4"/>
<text x="1654.5" y="829.2" text-anchor="middle" font-size="13.5" fill="#3a3a3a" textLength="39.0" lengthAdjust="spacingAndGlyphs" stroke="#fff" stroke-width="2.4" stroke-opacity=".75" stroke-linejoin="round" paint-order="stroke">Słupsk</text>
<text x="1632.5" y="860.6" text-anchor="middle" font-size="10.5" fill="#3a3a3a" textLength="44.5" lengthAdjust="spacingAndGlyphs" stroke="#fff" stroke-width="2.4" stroke-opacity=".75" stroke-linejoin="round" paint-order="stroke">Kobylnica</text>
<text x="1207.4" y="882.2" text-anchor="middle" font-size="10.5" fill="#3a3a3a" textLength="39.2" lengthAdjust="spacingAndGlyphs" stroke="#fff" stroke-width="2.4" stroke-opacity=".75" stroke-linejoin="round" paint-order="stroke">Darłowo</text>
<text x="1402.6" y="959.0" text-anchor="middle" font-size="10.5" fill="#3a3a3a" textLength="32.5" lengthAdjust="spacingAndGlyphs" stroke="#fff" stroke-width="2.4" stroke-opacity=".75" stroke-linejoin="round" paint-order="stroke">Sławno</text>
<text x="1333.2" y="930.9" text-anchor="middle" font-size="10" fill="#a077a6" textLength="30.0" lengthAdjust="spacingAndGlyphs" font-style="italic" stroke="#fff" stroke-width="2.4" stroke-opacity=".75" stroke-linejoin="round" paint-order="stroke">powiat</text>
<text x="1333.2" y="942.0" text-anchor="middle" font-size="10" fill="#a077a6" textLength="44.0" lengthAdjust="spacingAndGlyphs" font-style="italic" stroke="#fff" stroke-width="2.4" stroke-opacity=".75" stroke-linejoin="round" paint-order="stroke">sławieński</text>
<text x="1039.9" y="1179.2" text-anchor="middle" font-size="13.5" fill="#3a3a3a" textLength="49.0" lengthAdjust="spacingAndGlyphs" stroke="#fff" stroke-width="2.4" stroke-opacity=".75" stroke-linejoin="round" paint-order="stroke">Koszalin</text>
<text x="1068.6" y="1156.0" text-anchor="middle" font-size="10" fill="#a077a6" textLength="35.7" lengthAdjust="spacingAndGlyphs" font-style="italic" stroke="#fff" stroke-width="2.4" stroke-opacity=".75" stroke-linejoin="round" paint-order="stroke">Koszalin</text>
<text x="1124.0" y="1130.5" text-anchor="middle" font-size="10.5" fill="#3a3a3a" textLength="32.7" lengthAdjust="spacingAndGlyphs" stroke="#fff" stroke-width="2.4" stroke-opacity=".75" stroke-linejoin="round" paint-order="stroke">Sianów</text>
<text x="1408.6" y="1269.6" text-anchor="middle" font-size="10.5" fill="#3a3a3a" textLength="39.0" lengthAdjust="spacingAndGlyphs" stroke="#fff" stroke-width="2.4" stroke-opacity=".75" stroke-linejoin="round" paint-order="stroke">Polanów</text>
<text x="1554.8" y="1112.3" text-anchor="middle" font-size="10.5" fill="#3a3a3a" textLength="30.5" lengthAdjust="spacingAndGlyphs" stroke="#fff" stroke-width="2.4" stroke-opacity=".75" stroke-linejoin="round" paint-order="stroke">Kępice</text>
<text x="1803.2" y="1030.7" text-anchor="middle" font-size="12" fill="#4a9f4a" textLength="98.6" lengthAdjust="spacingAndGlyphs" font-style="italic">Park Krajobrazowy</text>
<text x="1803.2" y="1044.9" text-anchor="middle" font-size="12" fill="#4a9f4a" textLength="33.7" lengthAdjust="spacingAndGlyphs" font-style="italic">Dolina</text>
<text x="1803.2" y="1059.4" text-anchor="middle" font-size="12" fill="#4a9f4a" textLength="24.5" lengthAdjust="spacingAndGlyphs" font-style="italic">Słupi</text>
<text x="604.8" y="1197.2" text-anchor="middle" font-size="10.5" fill="#3a3a3a" textLength="46.4" lengthAdjust="spacingAndGlyphs" stroke="#fff" stroke-width="2.4" stroke-opacity=".75" stroke-linejoin="round" paint-order="stroke">Kołobrzeg</text>
<text x="947.8" y="1094.9" text-anchor="middle" font-size="10.5" fill="#3a3a3a" textLength="31.5" lengthAdjust="spacingAndGlyphs" stroke="#fff" stroke-width="2.4" stroke-opacity=".75" stroke-linejoin="round" paint-order="stroke">Mielno</text>
<rect x="933.1" y="1156" width="26.2" height="29.2" rx="2" fill="#f1d3da" stroke="#d9a3b1" stroke-width="1"/>
<text x="946.4" y="1168.6" text-anchor="middle" font-size="9.5" fill="#8c3a56">S6</text><text x="946.4" y="1181" text-anchor="middle" font-size="9.5" fill="#8c3a56">S11</text>
<rect x="992.5" y="1226.7" width="26.9" height="17.4" rx="2" fill="#f1d3da" stroke="#d9a3b1" stroke-width="1"/>
<text x="1006" y="1239.4" text-anchor="middle" font-size="10" fill="#8c3a56" stroke="#8c3a56" stroke-width=".3">S11</text>
<defs><linearGradient id="pin" x1="0" y1="0" x2="0" y2="1"><stop offset="0" stop-color="#0ccf0c"/><stop offset=".5" stop-color="#0a9d0a"/><stop offset="1" stop-color="#0a6a06"/></linearGradient></defs>
<ellipse cx="1118.7" cy="1031.1" rx="18.2" ry="10.5" fill="none" stroke="#8f8cab" stroke-width="1.2"/>
<ellipse cx="1117.7" cy="1031" rx="7.2" ry="3.4" fill="#c6c2be"/>
<path d="M1117.2 1029.8 C1113 1023 1103 1014.5 1103 1006 A14.1 14.1 0 0 1 1131.2 1006 C1131.2 1014.5 1121.4 1023 1117.2 1029.8 Z" fill="url(#pin)"/>
<path d="M1108.5 999.8 L1124 999.8 L1124 1009.6 L1126.6 1009.6 L1126.6 1011.9 L1108.5 1011.9 Z" fill="#fff"/>
<path d="M1117.6 1001 L1113.6 1006.2 L1116 1006.2 L1114.8 1010 L1119 1004.6 L1116.6 1004.6 Z" fill="#0aa80a"/>
<circle cx="1116.4" cy="1012.6" r="2.6" fill="#fff" stroke="#0a9a0a" stroke-width=".9"/><circle cx="1116.4" cy="1012.6" r=".9" fill="#0a9a0a"/>
<rect x="111.1" y="698.2" width="22.8" height="48.4" rx="3" fill="#fff" stroke="#c4c4c4" stroke-width="1"/><path d="M111.6 722.4 L133.4 722.4" stroke="#c4c4c4" stroke-width="1"/>
<path d="M118.2 710.3 L126.8 710.3 M122.5 706 L122.5 714.6 M118.8 736.6 L126.2 736.6" stroke="#555" stroke-width="2" fill="none"/>
<rect x="140.1" y="697" width="138.7" height="32.7" rx="5.5" fill="#fff" stroke="#cfd2d6" stroke-width="1"/>
<text x="152.5" y="718.8" font-size="15" fill="#3c3f52" textLength="95.3" lengthAdjust="spacingAndGlyphs">OSM standard</text>
<path d="M257.5 710.6 L262.3 717.4 L267.1 710.6" fill="none" stroke="#b8b8bd" stroke-width="1.1"/>
<rect x="288.8" y="697" width="83.3" height="32.7" rx="5.5" fill="#fff" stroke="#cfd2d6" stroke-width="1"/>
<text x="300.8" y="718.8" font-size="15" fill="#1d2240" stroke="#1d2240" stroke-width=".45" textLength="60.4" lengthAdjust="spacingAndGlyphs">Unfollow</text>
</svg>
</svg></body></html>
